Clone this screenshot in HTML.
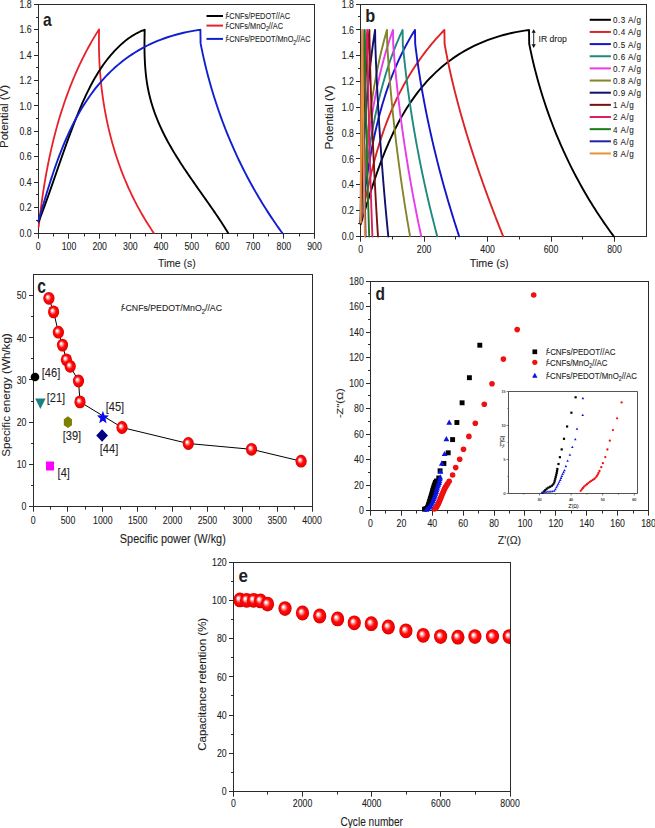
<!DOCTYPE html>
<html><head><meta charset="utf-8"><style>
html,body{margin:0;padding:0;background:#fff;width:655px;height:828px;overflow:hidden;position:relative}
</style></head><body>
<svg width="655" height="828" viewBox="0 0 655 828" style="position:absolute;left:0;top:0;font-family:'Liberation Sans', sans-serif">
<defs>
<radialGradient id="sph" cx="0.5" cy="0.5" r="0.5" fx="0.36" fy="0.37">
<stop offset="0" stop-color="#ffffff"/>
<stop offset="0.13" stop-color="#fff4f4"/>
<stop offset="0.36" stop-color="#ff7070"/>
<stop offset="0.55" stop-color="#ff0a0a"/>
<stop offset="0.88" stop-color="#f20000"/>
<stop offset="1" stop-color="#c40000"/>
</radialGradient>
</defs>
<rect width="655" height="828" fill="#ffffff"/>
<line x1="38.00" y1="233.50" x2="315.00" y2="233.50" stroke="#2a2a2a" stroke-width="1"/>
<line x1="38.50" y1="234.00" x2="38.50" y2="4.00" stroke="#2a2a2a" stroke-width="1"/>
<line x1="38.00" y1="4.50" x2="315.00" y2="4.50" stroke="#2a2a2a" stroke-width="1"/>
<line x1="314.50" y1="4.00" x2="314.50" y2="234.00" stroke="#2a2a2a" stroke-width="1"/>
<line x1="38.50" y1="233.50" x2="38.50" y2="238.70" stroke="#2a2a2a" stroke-width="1"/>
<text transform="translate(38.30,249.80) scale(0.86,1)" font-size="10.2" text-anchor="middle" font-weight="normal" fill="#1e1e1e" stroke="#1e1e1e" stroke-width="0.1" style="">0</text>
<line x1="68.50" y1="233.50" x2="68.50" y2="238.70" stroke="#2a2a2a" stroke-width="1"/>
<text transform="translate(68.99,249.80) scale(0.86,1)" font-size="10.2" text-anchor="middle" font-weight="normal" fill="#1e1e1e" stroke="#1e1e1e" stroke-width="0.1" style="">100</text>
<line x1="99.50" y1="233.50" x2="99.50" y2="238.70" stroke="#2a2a2a" stroke-width="1"/>
<text transform="translate(99.68,249.80) scale(0.86,1)" font-size="10.2" text-anchor="middle" font-weight="normal" fill="#1e1e1e" stroke="#1e1e1e" stroke-width="0.1" style="">200</text>
<line x1="130.50" y1="233.50" x2="130.50" y2="238.70" stroke="#2a2a2a" stroke-width="1"/>
<text transform="translate(130.37,249.80) scale(0.86,1)" font-size="10.2" text-anchor="middle" font-weight="normal" fill="#1e1e1e" stroke="#1e1e1e" stroke-width="0.1" style="">300</text>
<line x1="161.50" y1="233.50" x2="161.50" y2="238.70" stroke="#2a2a2a" stroke-width="1"/>
<text transform="translate(161.06,249.80) scale(0.86,1)" font-size="10.2" text-anchor="middle" font-weight="normal" fill="#1e1e1e" stroke="#1e1e1e" stroke-width="0.1" style="">400</text>
<line x1="191.50" y1="233.50" x2="191.50" y2="238.70" stroke="#2a2a2a" stroke-width="1"/>
<text transform="translate(191.74,249.80) scale(0.86,1)" font-size="10.2" text-anchor="middle" font-weight="normal" fill="#1e1e1e" stroke="#1e1e1e" stroke-width="0.1" style="">500</text>
<line x1="222.50" y1="233.50" x2="222.50" y2="238.70" stroke="#2a2a2a" stroke-width="1"/>
<text transform="translate(222.43,249.80) scale(0.86,1)" font-size="10.2" text-anchor="middle" font-weight="normal" fill="#1e1e1e" stroke="#1e1e1e" stroke-width="0.1" style="">600</text>
<line x1="253.50" y1="233.50" x2="253.50" y2="238.70" stroke="#2a2a2a" stroke-width="1"/>
<text transform="translate(253.12,249.80) scale(0.86,1)" font-size="10.2" text-anchor="middle" font-weight="normal" fill="#1e1e1e" stroke="#1e1e1e" stroke-width="0.1" style="">700</text>
<line x1="283.50" y1="233.50" x2="283.50" y2="238.70" stroke="#2a2a2a" stroke-width="1"/>
<text transform="translate(283.81,249.80) scale(0.86,1)" font-size="10.2" text-anchor="middle" font-weight="normal" fill="#1e1e1e" stroke="#1e1e1e" stroke-width="0.1" style="">800</text>
<line x1="314.50" y1="233.50" x2="314.50" y2="238.70" stroke="#2a2a2a" stroke-width="1"/>
<text transform="translate(314.50,249.80) scale(0.86,1)" font-size="10.2" text-anchor="middle" font-weight="normal" fill="#1e1e1e" stroke="#1e1e1e" stroke-width="0.1" style="">900</text>
<line x1="53.50" y1="233.50" x2="53.50" y2="236.50" stroke="#2a2a2a" stroke-width="1"/>
<line x1="84.50" y1="233.50" x2="84.50" y2="236.50" stroke="#2a2a2a" stroke-width="1"/>
<line x1="115.50" y1="233.50" x2="115.50" y2="236.50" stroke="#2a2a2a" stroke-width="1"/>
<line x1="145.50" y1="233.50" x2="145.50" y2="236.50" stroke="#2a2a2a" stroke-width="1"/>
<line x1="176.50" y1="233.50" x2="176.50" y2="236.50" stroke="#2a2a2a" stroke-width="1"/>
<line x1="207.50" y1="233.50" x2="207.50" y2="236.50" stroke="#2a2a2a" stroke-width="1"/>
<line x1="237.50" y1="233.50" x2="237.50" y2="236.50" stroke="#2a2a2a" stroke-width="1"/>
<line x1="268.50" y1="233.50" x2="268.50" y2="236.50" stroke="#2a2a2a" stroke-width="1"/>
<line x1="299.50" y1="233.50" x2="299.50" y2="236.50" stroke="#2a2a2a" stroke-width="1"/>
<line x1="34.00" y1="233.50" x2="38.50" y2="233.50" stroke="#2a2a2a" stroke-width="1"/>
<text transform="translate(31.60,236.70) scale(0.86,1)" font-size="10.2" text-anchor="end" font-weight="normal" fill="#1e1e1e" stroke="#1e1e1e" stroke-width="0.1" style="">0.0</text>
<line x1="34.00" y1="207.50" x2="38.50" y2="207.50" stroke="#2a2a2a" stroke-width="1"/>
<text transform="translate(31.60,211.29) scale(0.86,1)" font-size="10.2" text-anchor="end" font-weight="normal" fill="#1e1e1e" stroke="#1e1e1e" stroke-width="0.1" style="">0.2</text>
<line x1="34.00" y1="182.50" x2="38.50" y2="182.50" stroke="#2a2a2a" stroke-width="1"/>
<text transform="translate(31.60,185.88) scale(0.86,1)" font-size="10.2" text-anchor="end" font-weight="normal" fill="#1e1e1e" stroke="#1e1e1e" stroke-width="0.1" style="">0.4</text>
<line x1="34.00" y1="156.50" x2="38.50" y2="156.50" stroke="#2a2a2a" stroke-width="1"/>
<text transform="translate(31.60,160.47) scale(0.86,1)" font-size="10.2" text-anchor="end" font-weight="normal" fill="#1e1e1e" stroke="#1e1e1e" stroke-width="0.1" style="">0.6</text>
<line x1="34.00" y1="131.50" x2="38.50" y2="131.50" stroke="#2a2a2a" stroke-width="1"/>
<text transform="translate(31.60,135.06) scale(0.86,1)" font-size="10.2" text-anchor="end" font-weight="normal" fill="#1e1e1e" stroke="#1e1e1e" stroke-width="0.1" style="">0.8</text>
<line x1="34.00" y1="105.50" x2="38.50" y2="105.50" stroke="#2a2a2a" stroke-width="1"/>
<text transform="translate(31.60,109.64) scale(0.86,1)" font-size="10.2" text-anchor="end" font-weight="normal" fill="#1e1e1e" stroke="#1e1e1e" stroke-width="0.1" style="">1.0</text>
<line x1="34.00" y1="80.50" x2="38.50" y2="80.50" stroke="#2a2a2a" stroke-width="1"/>
<text transform="translate(31.60,84.23) scale(0.86,1)" font-size="10.2" text-anchor="end" font-weight="normal" fill="#1e1e1e" stroke="#1e1e1e" stroke-width="0.1" style="">1.2</text>
<line x1="34.00" y1="55.50" x2="38.50" y2="55.50" stroke="#2a2a2a" stroke-width="1"/>
<text transform="translate(31.60,58.82) scale(0.86,1)" font-size="10.2" text-anchor="end" font-weight="normal" fill="#1e1e1e" stroke="#1e1e1e" stroke-width="0.1" style="">1.4</text>
<line x1="34.00" y1="29.50" x2="38.50" y2="29.50" stroke="#2a2a2a" stroke-width="1"/>
<text transform="translate(31.60,33.41) scale(0.86,1)" font-size="10.2" text-anchor="end" font-weight="normal" fill="#1e1e1e" stroke="#1e1e1e" stroke-width="0.1" style="">1.6</text>
<line x1="34.00" y1="4.50" x2="38.50" y2="4.50" stroke="#2a2a2a" stroke-width="1"/>
<text transform="translate(31.60,8.00) scale(0.86,1)" font-size="10.2" text-anchor="end" font-weight="normal" fill="#1e1e1e" stroke="#1e1e1e" stroke-width="0.1" style="">1.8</text>
<line x1="36.00" y1="220.50" x2="38.50" y2="220.50" stroke="#2a2a2a" stroke-width="1"/>
<line x1="36.00" y1="194.50" x2="38.50" y2="194.50" stroke="#2a2a2a" stroke-width="1"/>
<line x1="36.00" y1="169.50" x2="38.50" y2="169.50" stroke="#2a2a2a" stroke-width="1"/>
<line x1="36.00" y1="144.50" x2="38.50" y2="144.50" stroke="#2a2a2a" stroke-width="1"/>
<line x1="36.00" y1="118.50" x2="38.50" y2="118.50" stroke="#2a2a2a" stroke-width="1"/>
<line x1="36.00" y1="93.50" x2="38.50" y2="93.50" stroke="#2a2a2a" stroke-width="1"/>
<line x1="36.00" y1="67.50" x2="38.50" y2="67.50" stroke="#2a2a2a" stroke-width="1"/>
<line x1="36.00" y1="42.50" x2="38.50" y2="42.50" stroke="#2a2a2a" stroke-width="1"/>
<line x1="36.00" y1="17.50" x2="38.50" y2="17.50" stroke="#2a2a2a" stroke-width="1"/>
<text transform="translate(176.80,267.00)" font-size="11.6" text-anchor="middle" font-weight="normal" fill="#1e1e1e" stroke="#1e1e1e" stroke-width="0.1" textLength="37.80" lengthAdjust="spacingAndGlyphs" style="">Time (s)</text>
<text transform="translate(7.60,116.50) rotate(-90) scale(1,0.86)" font-size="11.8" text-anchor="middle" font-weight="normal" fill="#1e1e1e" stroke="#1e1e1e" stroke-width="0.1" textLength="63.00" lengthAdjust="spacingAndGlyphs" style="">Potential (V)</text>
<text transform="translate(43.00,25.70) scale(0.86,1)" font-size="18" text-anchor="start" font-weight="bold" fill="#1e1e1e" style="">a</text>
<polyline points="38.70,226.90 38.94,224.59 39.20,222.28 39.46,219.97 39.73,217.66 40.00,215.35 40.28,213.04 40.57,210.72 40.87,208.41 41.17,206.10 41.48,203.78 41.80,201.46 42.13,199.15 42.46,196.83 42.80,194.52 43.15,192.20 43.50,189.88 43.87,187.57 44.24,185.25 44.62,182.94 45.01,180.63 45.41,178.31 45.82,176.00 46.24,173.69 46.66,171.38 47.10,169.07 47.54,166.77 47.99,164.46 48.46,162.16 48.93,159.85 49.41,157.55 49.90,155.26 50.40,152.96 50.91,150.67 51.43,148.38 51.96,146.09 52.51,143.80 53.06,141.52 53.62,139.24 54.19,136.96 54.78,134.68 55.37,132.41 55.98,130.14 56.60,127.88 57.23,125.62 57.87,123.36 58.52,121.11 59.18,118.86 59.85,116.61 60.54,114.37 61.24,112.13 61.95,109.90 62.67,107.67 63.41,105.44 64.15,103.22 64.91,101.01 65.68,98.80 66.47,96.59 67.27,94.39 68.08,92.20 68.90,90.01 69.74,87.83 70.59,85.65 71.45,83.47 72.33,81.31 73.22,79.15 74.13,76.99 75.05,74.85 75.98,72.70 76.92,70.57 77.89,68.44 78.86,66.32 79.85,64.20 80.85,62.09 81.87,59.99 82.91,57.90 83.96,55.81 85.02,53.73 86.10,51.66 87.19,49.60 88.30,47.54 89.43,45.49 90.57,43.45 91.72,41.42 92.90,39.39 94.08,37.38 95.29,35.37 96.51,33.37 97.74,31.38 99.00,29.40 99.10,29.40 99.04,31.80 98.99,34.20 98.96,36.61 98.93,39.01 98.93,41.42 98.93,43.82 98.95,46.23 98.99,48.64 99.03,51.04 99.10,53.45 99.17,55.86 99.26,58.27 99.37,60.67 99.49,63.08 99.62,65.48 99.77,67.89 99.93,70.29 100.11,72.70 100.30,75.10 100.51,77.50 100.73,79.90 100.97,82.30 101.22,84.69 101.49,87.09 101.77,89.48 102.06,91.87 102.38,94.26 102.70,96.65 103.05,99.03 103.40,101.41 103.78,103.79 104.16,106.17 104.57,108.54 104.99,110.91 105.42,113.28 105.87,115.64 106.34,118.01 106.82,120.36 107.32,122.72 107.83,125.07 108.36,127.41 108.91,129.75 109.47,132.09 110.05,134.43 110.64,136.75 111.26,139.08 111.88,141.40 112.53,143.71 113.19,146.02 113.86,148.33 114.55,150.63 115.26,152.92 115.99,155.21 116.73,157.50 117.49,159.77 118.27,162.04 119.06,164.31 119.87,166.57 120.70,168.82 121.54,171.07 122.40,173.31 123.28,175.55 124.18,177.77 125.09,179.99 126.02,182.21 126.97,184.41 127.93,186.61 128.92,188.81 129.92,190.99 130.93,193.17 131.97,195.34 133.02,197.50 134.09,199.65 135.18,201.79 136.29,203.93 137.41,206.06 138.56,208.18 139.72,210.29 140.90,212.39 142.09,214.48 143.31,216.57 144.54,218.64 145.80,220.71 147.07,222.77 148.36,224.81 149.66,226.85 150.99,228.88 152.34,230.89 153.70,232.90" fill="none" stroke="#e8202a" stroke-width="1.8" stroke-linejoin="round" stroke-linecap="round"/>
<polyline points="38.70,221.70 39.61,219.31 40.52,216.92 41.42,214.53 42.31,212.14 43.19,209.76 44.07,207.37 44.93,204.99 45.80,202.61 46.65,200.23 47.50,197.85 48.35,195.47 49.19,193.09 50.03,190.72 50.86,188.34 51.70,185.97 52.52,183.59 53.35,181.22 54.17,178.85 55.00,176.47 55.82,174.10 56.64,171.73 57.46,169.36 58.29,166.99 59.11,164.62 59.94,162.25 60.76,159.88 61.59,157.51 62.43,155.14 63.26,152.77 64.10,150.40 64.95,148.03 65.79,145.66 66.65,143.29 67.51,140.92 68.37,138.55 69.25,136.18 70.13,133.80 71.01,131.43 71.91,129.06 72.81,126.69 73.72,124.31 74.64,121.94 75.57,119.56 76.52,117.19 77.47,114.81 78.43,112.44 79.41,110.07 80.40,107.70 81.41,105.34 82.43,102.99 83.47,100.64 84.53,98.30 85.60,95.97 86.70,93.65 87.81,91.35 88.95,89.06 90.11,86.78 91.29,84.52 92.50,82.27 93.73,80.05 94.99,77.84 96.27,75.65 97.58,73.49 98.92,71.34 100.29,69.23 101.69,67.13 103.12,65.06 104.58,63.02 106.08,61.01 107.61,59.03 109.18,57.08 110.78,55.16 112.42,53.27 114.09,51.42 115.81,49.60 117.56,47.82 119.35,46.08 121.19,44.38 123.07,42.72 124.99,41.12 126.97,39.57 128.98,38.08 131.05,36.66 133.17,35.31 135.35,34.03 137.57,32.84 139.86,31.73 142.20,30.71 144.60,29.79 144.70,29.80 144.64,32.33 144.59,34.86 144.54,37.40 144.51,39.95 144.48,42.49 144.48,45.04 144.49,47.59 144.51,50.14 144.55,52.69 144.62,55.24 144.70,57.79 144.81,60.34 144.94,62.88 145.09,65.42 145.28,67.96 145.49,70.49 145.73,73.02 146.00,75.54 146.31,78.06 146.64,80.56 147.02,83.06 147.43,85.55 147.87,88.03 148.36,90.50 148.89,92.96 149.46,95.40 150.06,97.84 150.71,100.26 151.39,102.68 152.11,105.08 152.87,107.47 153.66,109.85 154.48,112.22 155.34,114.57 156.23,116.92 157.16,119.25 158.11,121.57 159.10,123.88 160.11,126.17 161.16,128.46 162.23,130.73 163.33,132.99 164.46,135.24 165.61,137.48 166.78,139.71 167.98,141.93 169.20,144.14 170.44,146.34 171.71,148.53 172.99,150.71 174.29,152.88 175.61,155.05 176.95,157.21 178.30,159.36 179.66,161.51 181.04,163.65 182.44,165.78 183.84,167.90 185.26,170.03 186.68,172.14 188.12,174.25 189.56,176.36 191.01,178.46 192.46,180.56 193.92,182.66 195.39,184.75 196.86,186.84 198.33,188.93 199.80,191.02 201.28,193.10 202.75,195.19 204.22,197.27 205.69,199.35 207.16,201.44 208.62,203.52 210.07,205.60 211.52,207.69 212.97,209.77 214.40,211.86 215.83,213.95 217.24,216.04 218.65,218.14 220.04,220.23 221.42,222.33 222.79,224.44 224.14,226.55 225.48,228.66 226.80,230.78 228.10,232.90" fill="none" stroke="#000000" stroke-width="1.9" stroke-linejoin="round" stroke-linecap="round"/>
<line x1="206.50" y1="16.00" x2="223.00" y2="16.00" stroke="#000000" stroke-width="2.0"/>
<text transform="translate(225.50,19.30)" font-size="9.4" text-anchor="start" font-weight="normal" fill="#1e1e1e" stroke="#1e1e1e" stroke-width="0.1" textLength="64.50" lengthAdjust="spacingAndGlyphs" style=""><tspan font-style="italic">f</tspan><tspan dx="-0.9">-</tspan>CNFs/PEDOT//AC</text>
<line x1="206.50" y1="25.60" x2="223.00" y2="25.60" stroke="#e8202a" stroke-width="2.0"/>
<text transform="translate(225.50,28.90)" font-size="9.4" text-anchor="start" font-weight="normal" fill="#1e1e1e" stroke="#1e1e1e" stroke-width="0.1" textLength="57.50" lengthAdjust="spacingAndGlyphs" style=""><tspan font-style="italic">f</tspan><tspan dx="-0.9">-</tspan>CNFs/MnO<tspan font-size="6.5" dy="2.3">2</tspan><tspan dy="-2.3">//AC</tspan></text>
<line x1="206.50" y1="38.90" x2="223.00" y2="38.90" stroke="#1020d0" stroke-width="2.0"/>
<text transform="translate(225.50,42.20)" font-size="9.4" text-anchor="start" font-weight="normal" fill="#1e1e1e" stroke="#1e1e1e" stroke-width="0.1" textLength="85.00" lengthAdjust="spacingAndGlyphs" style=""><tspan font-style="italic">f</tspan><tspan dx="-0.9">-</tspan>CNFs/PEDOT/MnO<tspan font-size="6.5" dy="2.3">2</tspan><tspan dy="-2.3">//AC</tspan></text>
<line x1="360.00" y1="236.50" x2="647.00" y2="236.50" stroke="#2a2a2a" stroke-width="1"/>
<line x1="360.50" y1="237.00" x2="360.50" y2="4.00" stroke="#2a2a2a" stroke-width="1"/>
<line x1="360.00" y1="4.50" x2="647.00" y2="4.50" stroke="#2a2a2a" stroke-width="1"/>
<line x1="646.50" y1="4.00" x2="646.50" y2="237.00" stroke="#2a2a2a" stroke-width="1"/>
<line x1="360.50" y1="236.50" x2="360.50" y2="241.70" stroke="#2a2a2a" stroke-width="1"/>
<text transform="translate(360.70,253.00) scale(0.86,1)" font-size="10.2" text-anchor="middle" font-weight="normal" fill="#1e1e1e" stroke="#1e1e1e" stroke-width="0.1" style="">0</text>
<line x1="424.50" y1="236.50" x2="424.50" y2="241.70" stroke="#2a2a2a" stroke-width="1"/>
<text transform="translate(424.14,253.00) scale(0.86,1)" font-size="10.2" text-anchor="middle" font-weight="normal" fill="#1e1e1e" stroke="#1e1e1e" stroke-width="0.1" style="">200</text>
<line x1="487.50" y1="236.50" x2="487.50" y2="241.70" stroke="#2a2a2a" stroke-width="1"/>
<text transform="translate(487.59,253.00) scale(0.86,1)" font-size="10.2" text-anchor="middle" font-weight="normal" fill="#1e1e1e" stroke="#1e1e1e" stroke-width="0.1" style="">400</text>
<line x1="551.50" y1="236.50" x2="551.50" y2="241.70" stroke="#2a2a2a" stroke-width="1"/>
<text transform="translate(551.03,253.00) scale(0.86,1)" font-size="10.2" text-anchor="middle" font-weight="normal" fill="#1e1e1e" stroke="#1e1e1e" stroke-width="0.1" style="">600</text>
<line x1="614.50" y1="236.50" x2="614.50" y2="241.70" stroke="#2a2a2a" stroke-width="1"/>
<text transform="translate(614.48,253.00) scale(0.86,1)" font-size="10.2" text-anchor="middle" font-weight="normal" fill="#1e1e1e" stroke="#1e1e1e" stroke-width="0.1" style="">800</text>
<line x1="392.50" y1="236.50" x2="392.50" y2="239.50" stroke="#2a2a2a" stroke-width="1"/>
<line x1="455.50" y1="236.50" x2="455.50" y2="239.50" stroke="#2a2a2a" stroke-width="1"/>
<line x1="519.50" y1="236.50" x2="519.50" y2="239.50" stroke="#2a2a2a" stroke-width="1"/>
<line x1="582.50" y1="236.50" x2="582.50" y2="239.50" stroke="#2a2a2a" stroke-width="1"/>
<line x1="356.00" y1="236.50" x2="360.50" y2="236.50" stroke="#2a2a2a" stroke-width="1"/>
<text transform="translate(354.00,239.90) scale(0.86,1)" font-size="10.2" text-anchor="end" font-weight="normal" fill="#1e1e1e" stroke="#1e1e1e" stroke-width="0.1" style="">0.0</text>
<line x1="356.00" y1="210.50" x2="360.50" y2="210.50" stroke="#2a2a2a" stroke-width="1"/>
<text transform="translate(354.00,214.11) scale(0.86,1)" font-size="10.2" text-anchor="end" font-weight="normal" fill="#1e1e1e" stroke="#1e1e1e" stroke-width="0.1" style="">0.2</text>
<line x1="356.00" y1="184.50" x2="360.50" y2="184.50" stroke="#2a2a2a" stroke-width="1"/>
<text transform="translate(354.00,188.32) scale(0.86,1)" font-size="10.2" text-anchor="end" font-weight="normal" fill="#1e1e1e" stroke="#1e1e1e" stroke-width="0.1" style="">0.4</text>
<line x1="356.00" y1="158.50" x2="360.50" y2="158.50" stroke="#2a2a2a" stroke-width="1"/>
<text transform="translate(354.00,162.53) scale(0.86,1)" font-size="10.2" text-anchor="end" font-weight="normal" fill="#1e1e1e" stroke="#1e1e1e" stroke-width="0.1" style="">0.6</text>
<line x1="356.00" y1="133.50" x2="360.50" y2="133.50" stroke="#2a2a2a" stroke-width="1"/>
<text transform="translate(354.00,136.74) scale(0.86,1)" font-size="10.2" text-anchor="end" font-weight="normal" fill="#1e1e1e" stroke="#1e1e1e" stroke-width="0.1" style="">0.8</text>
<line x1="356.00" y1="107.50" x2="360.50" y2="107.50" stroke="#2a2a2a" stroke-width="1"/>
<text transform="translate(354.00,110.96) scale(0.86,1)" font-size="10.2" text-anchor="end" font-weight="normal" fill="#1e1e1e" stroke="#1e1e1e" stroke-width="0.1" style="">1.0</text>
<line x1="356.00" y1="81.50" x2="360.50" y2="81.50" stroke="#2a2a2a" stroke-width="1"/>
<text transform="translate(354.00,85.17) scale(0.86,1)" font-size="10.2" text-anchor="end" font-weight="normal" fill="#1e1e1e" stroke="#1e1e1e" stroke-width="0.1" style="">1.2</text>
<line x1="356.00" y1="55.50" x2="360.50" y2="55.50" stroke="#2a2a2a" stroke-width="1"/>
<text transform="translate(354.00,59.38) scale(0.86,1)" font-size="10.2" text-anchor="end" font-weight="normal" fill="#1e1e1e" stroke="#1e1e1e" stroke-width="0.1" style="">1.4</text>
<line x1="356.00" y1="29.50" x2="360.50" y2="29.50" stroke="#2a2a2a" stroke-width="1"/>
<text transform="translate(354.00,33.59) scale(0.86,1)" font-size="10.2" text-anchor="end" font-weight="normal" fill="#1e1e1e" stroke="#1e1e1e" stroke-width="0.1" style="">1.6</text>
<line x1="356.00" y1="4.50" x2="360.50" y2="4.50" stroke="#2a2a2a" stroke-width="1"/>
<text transform="translate(354.00,7.80) scale(0.86,1)" font-size="10.2" text-anchor="end" font-weight="normal" fill="#1e1e1e" stroke="#1e1e1e" stroke-width="0.1" style="">1.8</text>
<line x1="358.00" y1="223.50" x2="360.50" y2="223.50" stroke="#2a2a2a" stroke-width="1"/>
<line x1="358.00" y1="197.50" x2="360.50" y2="197.50" stroke="#2a2a2a" stroke-width="1"/>
<line x1="358.00" y1="171.50" x2="360.50" y2="171.50" stroke="#2a2a2a" stroke-width="1"/>
<line x1="358.00" y1="145.50" x2="360.50" y2="145.50" stroke="#2a2a2a" stroke-width="1"/>
<line x1="358.00" y1="120.50" x2="360.50" y2="120.50" stroke="#2a2a2a" stroke-width="1"/>
<line x1="358.00" y1="94.50" x2="360.50" y2="94.50" stroke="#2a2a2a" stroke-width="1"/>
<line x1="358.00" y1="68.50" x2="360.50" y2="68.50" stroke="#2a2a2a" stroke-width="1"/>
<line x1="358.00" y1="42.50" x2="360.50" y2="42.50" stroke="#2a2a2a" stroke-width="1"/>
<line x1="358.00" y1="16.50" x2="360.50" y2="16.50" stroke="#2a2a2a" stroke-width="1"/>
<text transform="translate(489.20,267.00)" font-size="11.6" text-anchor="middle" font-weight="normal" fill="#1e1e1e" stroke="#1e1e1e" stroke-width="0.1" textLength="38.80" lengthAdjust="spacingAndGlyphs" style="">Time (s)</text>
<text transform="translate(332.80,117.50) rotate(-90) scale(1,0.86)" font-size="11.8" text-anchor="middle" font-weight="normal" fill="#1e1e1e" stroke="#1e1e1e" stroke-width="0.1" textLength="63.80" lengthAdjust="spacingAndGlyphs" style="">Potential (V)</text>
<text transform="translate(365.30,21.80) scale(0.86,1)" font-size="19" text-anchor="start" font-weight="bold" fill="#1e1e1e" style="">b</text>
<polyline points="38.29,221.25 39.13,218.43 39.98,215.58 40.83,212.70 41.69,209.81 42.56,206.89 43.43,203.95 44.32,200.99 45.21,198.02 46.12,195.03 47.04,192.02 47.97,189.01 48.92,185.98 49.88,182.94 50.86,179.89 51.86,176.84 52.87,173.78 53.91,170.71 54.97,167.64 56.04,164.57 57.15,161.50 58.27,158.43 59.42,155.37 60.60,152.30 61.81,149.25 63.04,146.19 64.30,143.15 65.59,140.12 66.92,137.09 68.27,134.08 69.66,131.08 71.08,128.10 72.54,125.14 74.04,122.19 75.57,119.26 77.14,116.35 78.76,113.46 80.41,110.60 82.10,107.76 83.84,104.95 85.62,102.16 87.45,99.40 89.32,96.68 91.24,93.98 93.20,91.32 95.22,88.69 97.29,86.10 99.40,83.55 101.57,81.03 103.80,78.55 106.07,76.12 108.40,73.73 110.79,71.38 113.24,69.08 115.74,66.82 118.31,64.62 120.93,62.46 123.62,60.35 126.37,58.30 129.18,56.30 132.06,54.36 135.00,52.47 138.01,50.64 141.09,48.87 144.23,47.16 147.45,45.51 150.74,43.93 154.10,42.41 157.53,40.96 161.04,39.57 164.62,38.26 168.28,37.01 172.01,35.84 175.82,34.74 179.72,33.72 183.69,32.77 187.74,31.90 191.88,31.11 196.10,30.40 200.41,29.77 200.40,29.71 200.60,43.38 201.34,47.14 202.11,50.88 202.90,54.61 203.72,58.33 204.57,62.02 205.45,65.70 206.35,69.37 207.27,73.01 208.23,76.64 209.20,80.26 210.21,83.85 211.23,87.43 212.29,90.99 213.36,94.54 214.46,98.06 215.58,101.57 216.73,105.06 217.90,108.53 219.10,111.99 220.31,115.42 221.55,118.84 222.81,122.23 224.09,125.61 225.39,128.97 226.72,132.31 228.07,135.63 229.43,138.93 230.82,142.21 232.23,145.48 233.65,148.72 235.10,151.94 236.57,155.14 238.05,158.32 239.56,161.48 241.08,164.62 242.62,167.73 244.18,170.83 245.75,173.90 247.35,176.96 248.96,179.99 250.59,183.00 252.23,185.99 253.90,188.96 255.57,191.90 257.27,194.82 258.98,197.72 260.70,200.60 262.44,203.45 264.20,206.28 265.97,209.09 267.75,211.87 269.55,214.64 271.36,217.37 273.18,220.09 275.02,222.78 276.87,225.44 278.74,228.09 280.61,230.70 282.50,233.30" fill="none" stroke="#1020d0" stroke-width="1.9" stroke-linejoin="round" stroke-linecap="round"/>
<polyline points="360.69,224.28 361.57,221.41 362.45,218.52 363.33,215.60 364.22,212.66 365.12,209.70 366.03,206.72 366.95,203.72 367.88,200.70 368.82,197.66 369.77,194.61 370.74,191.55 371.72,188.48 372.72,185.39 373.74,182.30 374.78,179.20 375.83,176.10 376.91,172.99 378.00,169.87 379.12,166.76 380.27,163.64 381.44,160.52 382.63,157.41 383.85,154.30 385.10,151.20 386.38,148.10 387.69,145.02 389.04,141.94 390.41,138.87 391.82,135.81 393.26,132.77 394.74,129.74 396.25,126.73 397.81,123.74 399.40,120.77 401.03,117.81 402.70,114.88 404.42,111.98 406.18,109.10 407.98,106.24 409.83,103.42 411.73,100.62 413.67,97.85 415.66,95.12 417.70,92.41 419.80,89.75 421.94,87.12 424.14,84.52 426.39,81.97 428.70,79.46 431.06,76.99 433.49,74.56 435.97,72.18 438.51,69.84 441.11,67.55 443.77,65.31 446.49,63.12 449.28,60.99 452.14,58.90 455.06,56.87 458.04,54.90 461.10,52.98 464.22,51.13 467.42,49.33 470.69,47.60 474.02,45.92 477.44,44.32 480.93,42.78 484.49,41.30 488.13,39.90 491.85,38.56 495.65,37.30 499.52,36.11 503.48,35.00 507.53,33.96 511.65,32.99 515.86,32.11 520.16,31.31 524.54,30.58 529.01,29.95 529.00,29.89 529.20,43.76 529.97,47.58 530.76,51.38 531.58,55.16 532.43,58.93 533.31,62.68 534.21,66.42 535.14,70.13 536.10,73.84 537.09,77.52 538.10,81.19 539.13,84.84 540.20,88.47 541.28,92.08 542.40,95.68 543.54,99.26 544.70,102.82 545.88,106.36 547.09,109.88 548.33,113.39 549.58,116.87 550.87,120.34 552.17,123.79 553.49,127.22 554.84,130.63 556.21,134.02 557.60,137.38 559.02,140.73 560.45,144.06 561.91,147.37 563.38,150.66 564.88,153.93 566.40,157.18 567.93,160.41 569.49,163.61 571.06,166.80 572.66,169.96 574.27,173.10 575.90,176.23 577.55,179.32 579.21,182.40 580.90,185.46 582.60,188.49 584.32,191.50 586.05,194.49 587.81,197.45 589.57,200.40 591.36,203.32 593.16,206.21 594.97,209.08 596.80,211.93 598.65,214.76 600.50,217.56 602.38,220.34 604.26,223.10 606.17,225.83 608.08,228.53 610.01,231.21 611.95,233.87 613.90,236.50" fill="none" stroke="#000000" stroke-width="1.9" stroke-linejoin="round" stroke-linecap="round"/>
<polyline points="360.69,222.44 361.13,220.29 361.57,218.12 362.01,215.93 362.45,213.73 362.90,211.51 363.35,209.27 363.81,207.02 364.27,204.75 364.74,202.46 365.21,200.16 365.69,197.85 366.18,195.53 366.68,193.19 367.19,190.83 367.70,188.47 368.22,186.09 368.76,183.70 369.31,181.30 369.86,178.89 370.43,176.47 371.01,174.04 371.61,171.60 372.22,169.15 372.84,166.69 373.47,164.22 374.12,161.74 374.79,159.26 375.48,156.77 376.18,154.27 376.89,151.77 377.63,149.26 378.38,146.74 379.15,144.22 379.95,141.70 380.76,139.17 381.59,136.64 382.44,134.10 383.32,131.56 384.21,129.02 385.13,126.48 386.08,123.93 387.04,121.38 388.03,118.84 389.05,116.29 390.09,113.74 391.16,111.19 392.25,108.64 393.37,106.09 394.52,103.55 395.69,101.00 396.90,98.46 398.13,95.92 399.39,93.39 400.69,90.86 402.01,88.33 403.37,85.81 404.75,83.29 406.17,80.77 407.63,78.27 409.11,75.76 410.63,73.27 412.18,70.78 413.77,68.30 415.40,65.82 417.06,63.36 418.76,60.90 420.49,58.45 422.26,56.02 424.07,53.59 425.92,51.17 427.81,48.76 429.74,46.36 431.71,43.97 433.72,41.60 435.77,39.24 437.87,36.89 440.00,34.55 442.18,32.23 444.40,29.92 444.40,29.89 444.60,43.89 445.13,46.87 445.68,49.87 446.25,52.89 446.84,55.92 447.44,58.97 448.07,62.03 448.71,65.10 449.38,68.19 450.06,71.30 450.76,74.42 451.47,77.55 452.21,80.69 452.96,83.84 453.73,87.01 454.52,90.19 455.32,93.38 456.14,96.58 456.98,99.79 457.83,103.02 458.70,106.25 459.59,109.49 460.49,112.74 461.41,116.00 462.34,119.27 463.29,122.55 464.25,125.83 465.23,129.12 466.22,132.42 467.23,135.73 468.25,139.04 469.28,142.36 470.33,145.69 471.40,149.02 472.47,152.35 473.56,155.69 474.66,159.04 475.78,162.38 476.91,165.74 478.05,169.09 479.20,172.45 480.37,175.81 481.55,179.17 482.73,182.54 483.93,185.91 485.15,189.28 486.37,192.65 487.60,196.02 488.85,199.39 490.10,202.76 491.37,206.13 492.65,209.50 493.93,212.86 495.23,216.23 496.53,219.59 497.85,222.96 499.17,226.32 500.51,229.68 501.85,233.03 503.20,236.38" fill="none" stroke="#dc2424" stroke-width="1.9" stroke-linejoin="round" stroke-linecap="round"/>
<polyline points="360.70,222.44 360.98,220.29 361.26,218.12 361.55,215.93 361.84,213.73 362.13,211.51 362.42,209.27 362.72,207.02 363.02,204.75 363.32,202.46 363.63,200.16 363.94,197.85 364.26,195.53 364.58,193.19 364.91,190.83 365.24,188.47 365.58,186.09 365.93,183.70 366.28,181.30 366.64,178.89 367.01,176.47 367.39,174.04 367.78,171.60 368.17,169.15 368.57,166.69 368.99,164.22 369.41,161.74 369.84,159.26 370.29,156.77 370.74,154.27 371.20,151.77 371.68,149.26 372.17,146.74 372.67,144.22 373.19,141.70 373.71,139.17 374.25,136.64 374.81,134.10 375.37,131.56 375.95,129.02 376.55,126.48 377.16,123.93 377.79,121.38 378.43,118.84 379.09,116.29 379.77,113.74 380.46,111.19 381.17,108.64 381.89,106.09 382.64,103.55 383.40,101.00 384.18,98.46 384.98,95.92 385.80,93.39 386.64,90.86 387.50,88.33 388.38,85.81 389.28,83.29 390.20,80.77 391.14,78.27 392.11,75.76 393.09,73.27 394.10,70.78 395.13,68.30 396.19,65.82 397.26,63.36 398.36,60.90 399.49,58.45 400.64,56.02 401.81,53.59 403.01,51.17 404.24,48.76 405.49,46.36 406.77,43.97 408.07,41.60 409.40,39.24 410.76,36.89 412.15,34.55 413.56,32.23 415.00,29.92 415.00,29.89 415.20,43.84 415.60,47.13 416.01,50.44 416.44,53.74 416.88,57.05 417.33,60.36 417.80,63.67 418.29,66.99 418.79,70.31 419.30,73.63 419.82,76.95 420.36,80.28 420.91,83.61 421.48,86.93 422.06,90.26 422.65,93.59 423.25,96.92 423.87,100.25 424.50,103.58 425.14,106.91 425.79,110.23 426.45,113.56 427.13,116.88 427.82,120.21 428.52,123.53 429.23,126.85 429.96,130.16 430.69,133.48 431.43,136.79 432.19,140.10 432.96,143.40 433.73,146.70 434.52,150.00 435.32,153.29 436.13,156.57 436.95,159.86 437.77,163.13 438.61,166.40 439.46,169.67 440.32,172.93 441.18,176.18 442.06,179.43 442.94,182.67 443.83,185.90 444.73,189.13 445.64,192.34 446.56,195.55 447.49,198.75 448.42,201.95 449.37,205.13 450.32,208.30 451.28,211.47 452.24,214.63 453.21,217.77 454.19,220.91 455.18,224.03 456.18,227.15 457.18,230.25 458.19,233.34 459.20,236.43" fill="none" stroke="#1414c8" stroke-width="1.9" stroke-linejoin="round" stroke-linecap="round"/>
<polyline points="360.70,222.35 360.92,220.23 361.13,218.10 361.35,215.95 361.58,213.78 361.80,211.60 362.03,209.40 362.26,207.19 362.49,204.96 362.72,202.72 362.96,200.46 363.20,198.18 363.44,195.90 363.69,193.60 363.95,191.28 364.20,188.96 364.47,186.62 364.73,184.27 365.01,181.90 365.29,179.53 365.57,177.14 365.86,174.75 366.16,172.34 366.46,169.93 366.78,167.50 367.09,165.07 367.42,162.62 367.75,160.17 368.10,157.71 368.45,155.24 368.81,152.77 369.17,150.29 369.55,147.80 369.94,145.30 370.33,142.80 370.74,140.29 371.16,137.78 371.58,135.27 372.02,132.75 372.47,130.22 372.93,127.69 373.40,125.16 373.89,122.62 374.38,120.08 374.89,117.54 375.41,115.00 375.95,112.46 376.49,109.91 377.05,107.36 377.63,104.82 378.22,102.27 378.82,99.72 379.44,97.17 380.07,94.63 380.72,92.08 381.38,89.54 382.06,87.00 382.75,84.46 383.46,81.92 384.19,79.39 384.93,76.86 385.70,74.34 386.47,71.81 387.27,69.30 388.08,66.78 388.91,64.28 389.76,61.77 390.63,59.28 391.52,56.79 392.43,54.31 393.35,51.83 394.30,49.36 395.26,46.90 396.25,44.45 397.25,42.00 398.28,39.57 399.33,37.14 400.40,34.72 401.49,32.32 402.60,29.92 402.60,29.89 402.80,43.82 403.11,47.22 403.44,50.62 403.77,54.02 404.12,57.42 404.47,60.82 404.84,64.22 405.22,67.62 405.61,71.01 406.01,74.41 406.42,77.80 406.85,81.19 407.28,84.58 407.72,87.96 408.18,91.35 408.64,94.72 409.11,98.10 409.60,101.47 410.09,104.84 410.59,108.20 411.10,111.56 411.62,114.92 412.16,118.27 412.70,121.61 413.24,124.95 413.80,128.28 414.37,131.61 414.95,134.93 415.53,138.24 416.12,141.55 416.72,144.85 417.33,148.15 417.95,151.43 418.58,154.71 419.21,157.98 419.85,161.24 420.50,164.50 421.16,167.74 421.82,170.98 422.49,174.21 423.17,177.43 423.86,180.63 424.55,183.83 425.25,187.02 425.96,190.20 426.67,193.36 427.39,196.52 428.12,199.67 428.85,202.80 429.59,205.92 430.34,209.03 431.09,212.13 431.84,215.21 432.61,218.29 433.38,221.35 434.15,224.39 434.93,227.42 435.71,230.44 436.50,233.45 437.30,236.44" fill="none" stroke="#1e8a7e" stroke-width="1.9" stroke-linejoin="round" stroke-linecap="round"/>
<polyline points="360.70,222.35 360.87,220.23 361.03,218.10 361.20,215.95 361.38,213.78 361.55,211.60 361.72,209.40 361.90,207.19 362.08,204.96 362.26,202.72 362.44,200.46 362.63,198.18 362.82,195.90 363.01,193.60 363.20,191.28 363.40,188.96 363.60,186.62 363.81,184.27 364.02,181.90 364.24,179.53 364.46,177.14 364.68,174.75 364.91,172.34 365.14,169.93 365.38,167.50 365.63,165.07 365.88,162.62 366.14,160.17 366.40,157.71 366.67,155.24 366.95,152.77 367.23,150.29 367.52,147.80 367.82,145.30 368.13,142.80 368.44,140.29 368.76,137.78 369.09,135.27 369.43,132.75 369.77,130.22 370.13,127.69 370.49,125.16 370.87,122.62 371.25,120.08 371.64,117.54 372.04,115.00 372.45,112.46 372.88,109.91 373.31,107.36 373.75,104.82 374.20,102.27 374.67,99.72 375.14,97.17 375.63,94.63 376.13,92.08 376.64,89.54 377.17,87.00 377.70,84.46 378.25,81.92 378.81,79.39 379.38,76.86 379.97,74.34 380.57,71.81 381.18,69.30 381.81,66.78 382.45,64.28 383.10,61.77 383.77,59.28 384.46,56.79 385.16,54.31 385.87,51.83 386.60,49.36 387.34,46.90 388.10,44.45 388.88,42.00 389.67,39.57 390.48,37.14 391.30,34.72 392.14,32.32 393.00,29.92 393.00,29.89 393.20,43.82 393.45,47.22 393.72,50.62 393.99,54.02 394.27,57.42 394.56,60.82 394.86,64.22 395.17,67.62 395.49,71.01 395.82,74.41 396.15,77.80 396.50,81.19 396.85,84.58 397.21,87.96 397.58,91.35 397.96,94.72 398.34,98.10 398.73,101.47 399.14,104.84 399.55,108.20 399.96,111.56 400.39,114.92 400.82,118.27 401.26,121.61 401.71,124.95 402.16,128.28 402.62,131.61 403.09,134.93 403.57,138.24 404.05,141.55 404.54,144.85 405.04,148.15 405.54,151.43 406.05,154.71 406.57,157.98 407.09,161.24 407.62,164.50 408.15,167.74 408.69,170.98 409.24,174.21 409.79,177.43 410.35,180.63 410.92,183.83 411.49,187.02 412.06,190.20 412.64,193.36 413.23,196.52 413.82,199.67 414.42,202.80 415.02,205.92 415.63,209.03 416.24,212.13 416.86,215.21 417.48,218.29 418.10,221.35 418.73,224.39 419.37,227.42 420.01,230.44 420.65,233.45 421.30,236.44" fill="none" stroke="#e83ce8" stroke-width="1.9" stroke-linejoin="round" stroke-linecap="round"/>
<polyline points="360.70,222.35 360.84,220.23 360.97,218.10 361.11,215.95 361.25,213.78 361.39,211.60 361.53,209.40 361.68,207.19 361.82,204.96 361.97,202.72 362.12,200.46 362.27,198.18 362.42,195.90 362.58,193.60 362.74,191.28 362.90,188.96 363.06,186.62 363.23,184.27 363.40,181.90 363.58,179.53 363.76,177.14 363.94,174.75 364.13,172.34 364.32,169.93 364.51,167.50 364.71,165.07 364.92,162.62 365.13,160.17 365.34,157.71 365.56,155.24 365.79,152.77 366.02,150.29 366.26,147.80 366.50,145.30 366.75,142.80 367.00,140.29 367.26,137.78 367.53,135.27 367.81,132.75 368.09,130.22 368.38,127.69 368.67,125.16 368.98,122.62 369.29,120.08 369.61,117.54 369.94,115.00 370.27,112.46 370.61,109.91 370.97,107.36 371.33,104.82 371.70,102.27 372.07,99.72 372.46,97.17 372.86,94.63 373.26,92.08 373.68,89.54 374.11,87.00 374.54,84.46 374.99,81.92 375.44,79.39 375.91,76.86 376.39,74.34 376.88,71.81 377.38,69.30 377.89,66.78 378.41,64.28 378.94,61.77 379.49,59.28 380.04,56.79 380.61,54.31 381.19,51.83 381.79,49.36 382.39,46.90 383.01,44.45 383.64,42.00 384.29,39.57 384.95,37.14 385.62,34.72 386.30,32.32 387.00,29.92 387.00,29.89 387.20,43.82 387.41,47.22 387.62,50.62 387.84,54.02 388.07,57.42 388.31,60.82 388.56,64.22 388.81,67.62 389.07,71.01 389.33,74.41 389.61,77.80 389.89,81.19 390.17,84.58 390.47,87.96 390.77,91.35 391.08,94.72 391.39,98.10 391.71,101.47 392.04,104.84 392.37,108.20 392.71,111.56 393.06,114.92 393.41,118.27 393.77,121.61 394.13,124.95 394.50,128.28 394.88,131.61 395.26,134.93 395.65,138.24 396.04,141.55 396.44,144.85 396.85,148.15 397.26,151.43 397.67,154.71 398.09,157.98 398.52,161.24 398.95,164.50 399.38,167.74 399.83,170.98 400.27,174.21 400.72,177.43 401.18,180.63 401.64,183.83 402.10,187.02 402.57,190.20 403.04,193.36 403.52,196.52 404.01,199.67 404.49,202.80 404.98,205.92 405.48,209.03 405.98,212.13 406.48,215.21 406.98,218.29 407.49,221.35 408.01,224.39 408.53,227.42 409.05,230.44 409.57,233.45 410.10,236.44" fill="none" stroke="#84842a" stroke-width="1.9" stroke-linejoin="round" stroke-linecap="round"/>
<polyline points="360.70,222.35 360.77,220.23 360.85,218.10 360.93,215.95 361.00,213.78 361.08,211.60 361.16,209.40 361.23,207.19 361.31,204.96 361.39,202.72 361.48,200.46 361.56,198.18 361.64,195.90 361.73,193.60 361.82,191.28 361.90,188.96 361.99,186.62 362.09,184.27 362.18,181.90 362.28,179.53 362.37,177.14 362.47,174.75 362.58,172.34 362.68,169.93 362.79,167.50 362.90,165.07 363.01,162.62 363.12,160.17 363.24,157.71 363.36,155.24 363.49,152.77 363.61,150.29 363.74,147.80 363.87,145.30 364.01,142.80 364.15,140.29 364.29,137.78 364.44,135.27 364.59,132.75 364.75,130.22 364.90,127.69 365.07,125.16 365.23,122.62 365.40,120.08 365.58,117.54 365.76,115.00 365.94,112.46 366.13,109.91 366.32,107.36 366.52,104.82 366.72,102.27 366.93,99.72 367.14,97.17 367.36,94.63 367.58,92.08 367.81,89.54 368.04,87.00 368.28,84.46 368.52,81.92 368.77,79.39 369.03,76.86 369.29,74.34 369.56,71.81 369.83,69.30 370.11,66.78 370.40,64.28 370.69,61.77 370.99,59.28 371.29,56.79 371.60,54.31 371.92,51.83 372.25,49.36 372.58,46.90 372.92,44.45 373.26,42.00 373.62,39.57 373.98,37.14 374.34,34.72 374.72,32.32 375.10,29.92 375.10,29.89 375.30,43.82 375.42,47.22 375.54,50.62 375.67,54.02 375.80,57.42 375.93,60.82 376.07,64.22 376.21,67.62 376.36,71.01 376.51,74.41 376.67,77.80 376.82,81.19 376.99,84.58 377.15,87.96 377.33,91.35 377.50,94.72 377.68,98.10 377.86,101.47 378.05,104.84 378.24,108.20 378.43,111.56 378.63,114.92 378.83,118.27 379.03,121.61 379.24,124.95 379.45,128.28 379.66,131.61 379.88,134.93 380.10,138.24 380.32,141.55 380.55,144.85 380.78,148.15 381.01,151.43 381.24,154.71 381.48,157.98 381.73,161.24 381.97,164.50 382.22,167.74 382.47,170.98 382.72,174.21 382.98,177.43 383.23,180.63 383.50,183.83 383.76,187.02 384.03,190.20 384.29,193.36 384.57,196.52 384.84,199.67 385.12,202.80 385.39,205.92 385.68,209.03 385.96,212.13 386.24,215.21 386.53,218.29 386.82,221.35 387.11,224.39 387.41,227.42 387.70,230.44 388.00,233.45 388.30,236.44" fill="none" stroke="#10106e" stroke-width="1.9" stroke-linejoin="round" stroke-linecap="round"/>
<polyline points="360.70,222.35 360.74,220.23 360.79,218.10 360.84,215.95 360.88,213.78 360.93,211.60 360.98,209.40 361.02,207.19 361.07,204.96 361.12,202.72 361.17,200.46 361.22,198.18 361.27,195.90 361.32,193.60 361.37,191.28 361.43,188.96 361.48,186.62 361.54,184.27 361.59,181.90 361.65,179.53 361.71,177.14 361.77,174.75 361.83,172.34 361.90,169.93 361.96,167.50 362.03,165.07 362.10,162.62 362.16,160.17 362.24,157.71 362.31,155.24 362.38,152.77 362.46,150.29 362.54,147.80 362.62,145.30 362.70,142.80 362.78,140.29 362.87,137.78 362.96,135.27 363.05,132.75 363.14,130.22 363.24,127.69 363.34,125.16 363.44,122.62 363.54,120.08 363.65,117.54 363.75,115.00 363.87,112.46 363.98,109.91 364.10,107.36 364.22,104.82 364.34,102.27 364.46,99.72 364.59,97.17 364.72,94.63 364.86,92.08 364.99,89.54 365.13,87.00 365.28,84.46 365.43,81.92 365.58,79.39 365.73,76.86 365.89,74.34 366.05,71.81 366.22,69.30 366.39,66.78 366.56,64.28 366.73,61.77 366.91,59.28 367.10,56.79 367.29,54.31 367.48,51.83 367.68,49.36 367.88,46.90 368.08,44.45 368.29,42.00 368.50,39.57 368.72,37.14 368.94,34.72 369.17,32.32 369.40,29.92 369.40,29.89 369.60,43.82 369.68,47.22 369.75,50.62 369.84,54.02 369.92,57.42 370.01,60.82 370.10,64.22 370.19,67.62 370.28,71.01 370.38,74.41 370.48,77.80 370.59,81.19 370.69,84.58 370.80,87.96 370.91,91.35 371.02,94.72 371.14,98.10 371.25,101.47 371.37,104.84 371.50,108.20 371.62,111.56 371.75,114.92 371.88,118.27 372.01,121.61 372.14,124.95 372.28,128.28 372.42,131.61 372.56,134.93 372.70,138.24 372.84,141.55 372.99,144.85 373.14,148.15 373.29,151.43 373.44,154.71 373.60,157.98 373.75,161.24 373.91,164.50 374.07,167.74 374.23,170.98 374.39,174.21 374.56,177.43 374.73,180.63 374.90,183.83 375.07,187.02 375.24,190.20 375.41,193.36 375.59,196.52 375.76,199.67 375.94,202.80 376.12,205.92 376.30,209.03 376.49,212.13 376.67,215.21 376.86,218.29 377.04,221.35 377.23,224.39 377.42,227.42 377.61,230.44 377.81,233.45 378.00,236.44" fill="none" stroke="#781212" stroke-width="1.9" stroke-linejoin="round" stroke-linecap="round"/>
<polyline points="360.70,222.35 360.73,220.23 360.77,218.10 360.80,215.95 360.84,213.78 360.87,211.60 360.91,209.40 360.95,207.19 360.98,204.96 361.02,202.72 361.06,200.46 361.09,198.18 361.13,195.90 361.17,193.60 361.21,191.28 361.25,188.96 361.29,186.62 361.34,184.27 361.38,181.90 361.42,179.53 361.47,177.14 361.51,174.75 361.56,172.34 361.61,169.93 361.66,167.50 361.71,165.07 361.76,162.62 361.81,160.17 361.87,157.71 361.92,155.24 361.98,152.77 362.03,150.29 362.09,147.80 362.16,145.30 362.22,142.80 362.28,140.29 362.35,137.78 362.41,135.27 362.48,132.75 362.55,130.22 362.63,127.69 362.70,125.16 362.78,122.62 362.86,120.08 362.94,117.54 363.02,115.00 363.10,112.46 363.19,109.91 363.28,107.36 363.37,104.82 363.46,102.27 363.55,99.72 363.65,97.17 363.75,94.63 363.85,92.08 363.96,89.54 364.06,87.00 364.17,84.46 364.29,81.92 364.40,79.39 364.52,76.86 364.64,74.34 364.76,71.81 364.89,69.30 365.01,66.78 365.14,64.28 365.28,61.77 365.41,59.28 365.55,56.79 365.70,54.31 365.84,51.83 365.99,49.36 366.14,46.90 366.30,44.45 366.46,42.00 366.62,39.57 366.78,37.14 366.95,34.72 367.13,32.32 367.30,29.92 367.30,29.89 367.50,43.82 367.54,47.22 367.59,50.62 367.64,54.02 367.69,57.42 367.74,60.82 367.79,64.22 367.84,67.62 367.90,71.01 367.96,74.41 368.01,77.80 368.07,81.19 368.14,84.58 368.20,87.96 368.26,91.35 368.33,94.72 368.40,98.10 368.47,101.47 368.54,104.84 368.61,108.20 368.68,111.56 368.75,114.92 368.83,118.27 368.91,121.61 368.98,124.95 369.06,128.28 369.14,131.61 369.22,134.93 369.31,138.24 369.39,141.55 369.48,144.85 369.56,148.15 369.65,151.43 369.74,154.71 369.83,157.98 369.92,161.24 370.01,164.50 370.11,167.74 370.20,170.98 370.30,174.21 370.39,177.43 370.49,180.63 370.59,183.83 370.69,187.02 370.79,190.20 370.89,193.36 370.99,196.52 371.10,199.67 371.20,202.80 371.30,205.92 371.41,209.03 371.52,212.13 371.63,215.21 371.73,218.29 371.84,221.35 371.95,224.39 372.06,227.42 372.17,230.44 372.29,233.45 372.40,236.44" fill="none" stroke="#dc1e68" stroke-width="1.9" stroke-linejoin="round" stroke-linecap="round"/>
<polyline points="360.70,222.35 360.72,220.23 360.74,218.10 360.76,215.95 360.79,213.78 360.81,211.60 360.83,209.40 360.85,207.19 360.87,204.96 360.90,202.72 360.92,200.46 360.94,198.18 360.97,195.90 360.99,193.60 361.02,191.28 361.04,188.96 361.07,186.62 361.09,184.27 361.12,181.90 361.15,179.53 361.18,177.14 361.21,174.75 361.23,172.34 361.26,169.93 361.29,167.50 361.33,165.07 361.36,162.62 361.39,160.17 361.42,157.71 361.46,155.24 361.49,152.77 361.53,150.29 361.57,147.80 361.60,145.30 361.64,142.80 361.68,140.29 361.72,137.78 361.77,135.27 361.81,132.75 361.85,130.22 361.90,127.69 361.94,125.16 361.99,122.62 362.04,120.08 362.09,117.54 362.14,115.00 362.19,112.46 362.25,109.91 362.30,107.36 362.36,104.82 362.41,102.27 362.47,99.72 362.53,97.17 362.60,94.63 362.66,92.08 362.72,89.54 362.79,87.00 362.86,84.46 362.93,81.92 363.00,79.39 363.07,76.86 363.15,74.34 363.22,71.81 363.30,69.30 363.38,66.78 363.46,64.28 363.54,61.77 363.63,59.28 363.72,56.79 363.80,54.31 363.89,51.83 363.99,49.36 364.08,46.90 364.18,44.45 364.28,42.00 364.38,39.57 364.48,37.14 364.58,34.72 364.69,32.32 364.80,29.92 364.80,29.89 365.00,43.82 365.04,47.22 365.08,50.62 365.12,54.02 365.16,57.42 365.20,60.82 365.25,64.22 365.29,67.62 365.34,71.01 365.39,74.41 365.44,77.80 365.49,81.19 365.55,84.58 365.60,87.96 365.65,91.35 365.71,94.72 365.77,98.10 365.83,101.47 365.89,104.84 365.95,108.20 366.01,111.56 366.07,114.92 366.14,118.27 366.20,121.61 366.27,124.95 366.34,128.28 366.41,131.61 366.48,134.93 366.55,138.24 366.62,141.55 366.70,144.85 366.77,148.15 366.84,151.43 366.92,154.71 367.00,157.98 367.08,161.24 367.15,164.50 367.23,167.74 367.32,170.98 367.40,174.21 367.48,177.43 367.56,180.63 367.65,183.83 367.73,187.02 367.82,190.20 367.91,193.36 367.99,196.52 368.08,199.67 368.17,202.80 368.26,205.92 368.35,209.03 368.44,212.13 368.54,215.21 368.63,218.29 368.72,221.35 368.82,224.39 368.91,227.42 369.01,230.44 369.10,233.45 369.20,236.44" fill="none" stroke="#1c7c1c" stroke-width="1.9" stroke-linejoin="round" stroke-linecap="round"/>
<polyline points="360.70,222.35 360.71,220.23 360.72,218.10 360.73,215.95 360.74,213.78 360.75,211.60 360.76,209.40 360.77,207.19 360.78,204.96 360.79,202.72 360.80,200.46 360.81,198.18 360.82,195.90 360.84,193.60 360.85,191.28 360.86,188.96 360.87,186.62 360.88,184.27 360.90,181.90 360.91,179.53 360.92,177.14 360.93,174.75 360.95,172.34 360.96,169.93 360.98,167.50 360.99,165.07 361.00,162.62 361.02,160.17 361.04,157.71 361.05,155.24 361.07,152.77 361.08,150.29 361.10,147.80 361.12,145.30 361.14,142.80 361.16,140.29 361.17,137.78 361.19,135.27 361.21,132.75 361.23,130.22 361.25,127.69 361.28,125.16 361.30,122.62 361.32,120.08 361.34,117.54 361.37,115.00 361.39,112.46 361.42,109.91 361.44,107.36 361.47,104.82 361.49,102.27 361.52,99.72 361.55,97.17 361.58,94.63 361.61,92.08 361.64,89.54 361.67,87.00 361.70,84.46 361.73,81.92 361.77,79.39 361.80,76.86 361.83,74.34 361.87,71.81 361.90,69.30 361.94,66.78 361.98,64.28 362.02,61.77 362.06,59.28 362.10,56.79 362.14,54.31 362.18,51.83 362.22,49.36 362.27,46.90 362.31,44.45 362.36,42.00 362.40,39.57 362.45,37.14 362.50,34.72 362.55,32.32 362.60,29.92 362.60,29.89 362.80,43.82 362.83,47.22 362.85,50.62 362.88,54.02 362.91,57.42 362.94,60.82 362.97,64.22 363.00,67.62 363.03,71.01 363.06,74.41 363.09,77.80 363.13,81.19 363.16,84.58 363.20,87.96 363.24,91.35 363.27,94.72 363.31,98.10 363.35,101.47 363.39,104.84 363.43,108.20 363.47,111.56 363.52,114.92 363.56,118.27 363.60,121.61 363.65,124.95 363.69,128.28 363.74,131.61 363.79,134.93 363.83,138.24 363.88,141.55 363.93,144.85 363.98,148.15 364.03,151.43 364.08,154.71 364.13,157.98 364.18,161.24 364.24,164.50 364.29,167.74 364.34,170.98 364.40,174.21 364.45,177.43 364.51,180.63 364.57,183.83 364.62,187.02 364.68,190.20 364.74,193.36 364.80,196.52 364.85,199.67 364.91,202.80 364.97,205.92 365.03,209.03 365.10,212.13 365.16,215.21 365.22,218.29 365.28,221.35 365.34,224.39 365.41,227.42 365.47,230.44 365.54,233.45 365.60,236.44" fill="none" stroke="#1c24a8" stroke-width="1.9" stroke-linejoin="round" stroke-linecap="round"/>
<polyline points="360.70,222.35 360.71,220.23 360.72,218.10 360.73,215.95 360.74,213.78 360.74,211.60 360.75,209.40 360.76,207.19 360.77,204.96 360.78,202.72 360.79,200.46 360.80,198.18 360.81,195.90 360.82,193.60 360.83,191.28 360.84,188.96 360.85,186.62 360.86,184.27 360.87,181.90 360.89,179.53 360.90,177.14 360.91,174.75 360.92,172.34 360.93,169.93 360.95,167.50 360.96,165.07 360.97,162.62 360.99,160.17 361.00,157.71 361.01,155.24 361.03,152.77 361.04,150.29 361.06,147.80 361.07,145.30 361.09,142.80 361.11,140.29 361.12,137.78 361.14,135.27 361.16,132.75 361.18,130.22 361.20,127.69 361.22,125.16 361.24,122.62 361.26,120.08 361.28,117.54 361.30,115.00 361.32,112.46 361.34,109.91 361.36,107.36 361.39,104.82 361.41,102.27 361.44,99.72 361.46,97.17 361.49,94.63 361.51,92.08 361.54,89.54 361.57,87.00 361.59,84.46 361.62,81.92 361.65,79.39 361.68,76.86 361.71,74.34 361.75,71.81 361.78,69.30 361.81,66.78 361.84,64.28 361.88,61.77 361.91,59.28 361.95,56.79 361.99,54.31 362.02,51.83 362.06,49.36 362.10,46.90 362.14,44.45 362.18,42.00 362.22,39.57 362.27,37.14 362.31,34.72 362.35,32.32 362.40,29.92 362.40,29.89 362.60,43.82 362.62,47.22 362.64,50.62 362.66,54.02 362.69,57.42 362.71,60.82 362.74,64.22 362.76,67.62 362.79,71.01 362.81,74.41 362.84,77.80 362.87,81.19 362.90,84.58 362.93,87.96 362.96,91.35 362.99,94.72 363.02,98.10 363.05,101.47 363.09,104.84 363.12,108.20 363.15,111.56 363.19,114.92 363.22,118.27 363.26,121.61 363.30,124.95 363.33,128.28 363.37,131.61 363.41,134.93 363.45,138.24 363.49,141.55 363.53,144.85 363.57,148.15 363.61,151.43 363.65,154.71 363.69,157.98 363.74,161.24 363.78,164.50 363.82,167.74 363.87,170.98 363.91,174.21 363.96,177.43 364.00,180.63 364.05,183.83 364.10,187.02 364.14,190.20 364.19,193.36 364.24,196.52 364.29,199.67 364.34,202.80 364.39,205.92 364.44,209.03 364.49,212.13 364.54,215.21 364.59,218.29 364.64,221.35 364.69,224.39 364.74,227.42 364.79,230.44 364.85,233.45 364.90,236.44" fill="none" stroke="#eb9236" stroke-width="1.9" stroke-linejoin="round" stroke-linecap="round"/>
<line x1="589.70" y1="19.80" x2="610.90" y2="19.80" stroke="#000000" stroke-width="2.0"/>
<text transform="translate(612.90,23.20) scale(0.82,1)" font-size="9.9" text-anchor="start" font-weight="normal" fill="#1e1e1e" stroke="#1e1e1e" stroke-width="0.1" textLength="34.39" lengthAdjust="spacing" style="">0.3 A/g</text>
<line x1="589.70" y1="31.95" x2="610.90" y2="31.95" stroke="#dc2424" stroke-width="2.0"/>
<text transform="translate(612.90,35.35) scale(0.82,1)" font-size="9.9" text-anchor="start" font-weight="normal" fill="#1e1e1e" stroke="#1e1e1e" stroke-width="0.1" textLength="34.39" lengthAdjust="spacing" style="">0.4 A/g</text>
<line x1="589.70" y1="44.10" x2="610.90" y2="44.10" stroke="#1414c8" stroke-width="2.0"/>
<text transform="translate(612.90,47.50) scale(0.82,1)" font-size="9.9" text-anchor="start" font-weight="normal" fill="#1e1e1e" stroke="#1e1e1e" stroke-width="0.1" textLength="34.39" lengthAdjust="spacing" style="">0.5 A/g</text>
<line x1="589.70" y1="56.25" x2="610.90" y2="56.25" stroke="#1e8a7e" stroke-width="2.0"/>
<text transform="translate(612.90,59.65) scale(0.82,1)" font-size="9.9" text-anchor="start" font-weight="normal" fill="#1e1e1e" stroke="#1e1e1e" stroke-width="0.1" textLength="34.39" lengthAdjust="spacing" style="">0.6 A/g</text>
<line x1="589.70" y1="68.40" x2="610.90" y2="68.40" stroke="#e83ce8" stroke-width="2.0"/>
<text transform="translate(612.90,71.80) scale(0.82,1)" font-size="9.9" text-anchor="start" font-weight="normal" fill="#1e1e1e" stroke="#1e1e1e" stroke-width="0.1" textLength="34.39" lengthAdjust="spacing" style="">0.7 A/g</text>
<line x1="589.70" y1="80.55" x2="610.90" y2="80.55" stroke="#84842a" stroke-width="2.0"/>
<text transform="translate(612.90,83.95) scale(0.82,1)" font-size="9.9" text-anchor="start" font-weight="normal" fill="#1e1e1e" stroke="#1e1e1e" stroke-width="0.1" textLength="34.39" lengthAdjust="spacing" style="">0.8 A/g</text>
<line x1="589.70" y1="92.70" x2="610.90" y2="92.70" stroke="#10106e" stroke-width="2.0"/>
<text transform="translate(612.90,96.10) scale(0.82,1)" font-size="9.9" text-anchor="start" font-weight="normal" fill="#1e1e1e" stroke="#1e1e1e" stroke-width="0.1" textLength="34.39" lengthAdjust="spacing" style="">0.9 A/g</text>
<line x1="589.70" y1="104.85" x2="610.90" y2="104.85" stroke="#781212" stroke-width="2.0"/>
<text transform="translate(612.90,108.25) scale(0.82,1)" font-size="9.9" text-anchor="start" font-weight="normal" fill="#1e1e1e" stroke="#1e1e1e" stroke-width="0.1" textLength="25.61" lengthAdjust="spacing" style="">1 A/g</text>
<line x1="589.70" y1="117.00" x2="610.90" y2="117.00" stroke="#dc1e68" stroke-width="2.0"/>
<text transform="translate(612.90,120.40) scale(0.82,1)" font-size="9.9" text-anchor="start" font-weight="normal" fill="#1e1e1e" stroke="#1e1e1e" stroke-width="0.1" textLength="25.61" lengthAdjust="spacing" style="">2 A/g</text>
<line x1="589.70" y1="129.15" x2="610.90" y2="129.15" stroke="#1c7c1c" stroke-width="2.0"/>
<text transform="translate(612.90,132.55) scale(0.82,1)" font-size="9.9" text-anchor="start" font-weight="normal" fill="#1e1e1e" stroke="#1e1e1e" stroke-width="0.1" textLength="25.61" lengthAdjust="spacing" style="">4 A/g</text>
<line x1="589.70" y1="141.30" x2="610.90" y2="141.30" stroke="#1c24a8" stroke-width="2.0"/>
<text transform="translate(612.90,144.70) scale(0.82,1)" font-size="9.9" text-anchor="start" font-weight="normal" fill="#1e1e1e" stroke="#1e1e1e" stroke-width="0.1" textLength="25.61" lengthAdjust="spacing" style="">6 A/g</text>
<line x1="589.70" y1="153.45" x2="610.90" y2="153.45" stroke="#eb9236" stroke-width="2.0"/>
<text transform="translate(612.90,156.85) scale(0.82,1)" font-size="9.9" text-anchor="start" font-weight="normal" fill="#1e1e1e" stroke="#1e1e1e" stroke-width="0.1" textLength="25.61" lengthAdjust="spacing" style="">8 A/g</text>
<line x1="533.70" y1="31.00" x2="533.70" y2="46.00" stroke="#111" stroke-width="0.9"/>
<path d="M531.6,32.8 L533.7,29.2 L535.8,32.8 Z M531.6,44.2 L533.7,47.9 L535.8,44.2 Z" fill="#111"/>
<text transform="translate(538.50,41.80) scale(0.88,1)" font-size="9.8" text-anchor="start" font-weight="normal" fill="#1e1e1e" stroke="#1e1e1e" stroke-width="0.1" style="">IR drop</text>
<line x1="33.00" y1="506.50" x2="313.00" y2="506.50" stroke="#2a2a2a" stroke-width="1"/>
<line x1="33.50" y1="507.00" x2="33.50" y2="274.00" stroke="#2a2a2a" stroke-width="1"/>
<line x1="33.00" y1="274.50" x2="313.00" y2="274.50" stroke="#2a2a2a" stroke-width="1"/>
<line x1="312.50" y1="274.00" x2="312.50" y2="507.00" stroke="#2a2a2a" stroke-width="1"/>
<line x1="33.50" y1="506.50" x2="33.50" y2="511.70" stroke="#2a2a2a" stroke-width="1"/>
<text transform="translate(33.10,523.80) scale(0.86,1)" font-size="10.2" text-anchor="middle" font-weight="normal" fill="#1e1e1e" stroke="#1e1e1e" stroke-width="0.1" style="">0</text>
<line x1="67.50" y1="506.50" x2="67.50" y2="511.70" stroke="#2a2a2a" stroke-width="1"/>
<text transform="translate(67.97,523.80) scale(0.86,1)" font-size="10.2" text-anchor="middle" font-weight="normal" fill="#1e1e1e" stroke="#1e1e1e" stroke-width="0.1" style="">500</text>
<line x1="102.50" y1="506.50" x2="102.50" y2="511.70" stroke="#2a2a2a" stroke-width="1"/>
<text transform="translate(102.85,523.80) scale(0.86,1)" font-size="10.2" text-anchor="middle" font-weight="normal" fill="#1e1e1e" stroke="#1e1e1e" stroke-width="0.1" style="">1000</text>
<line x1="137.50" y1="506.50" x2="137.50" y2="511.70" stroke="#2a2a2a" stroke-width="1"/>
<text transform="translate(137.72,523.80) scale(0.86,1)" font-size="10.2" text-anchor="middle" font-weight="normal" fill="#1e1e1e" stroke="#1e1e1e" stroke-width="0.1" style="">1500</text>
<line x1="172.50" y1="506.50" x2="172.50" y2="511.70" stroke="#2a2a2a" stroke-width="1"/>
<text transform="translate(172.60,523.80) scale(0.86,1)" font-size="10.2" text-anchor="middle" font-weight="normal" fill="#1e1e1e" stroke="#1e1e1e" stroke-width="0.1" style="">2000</text>
<line x1="207.50" y1="506.50" x2="207.50" y2="511.70" stroke="#2a2a2a" stroke-width="1"/>
<text transform="translate(207.47,523.80) scale(0.86,1)" font-size="10.2" text-anchor="middle" font-weight="normal" fill="#1e1e1e" stroke="#1e1e1e" stroke-width="0.1" style="">2500</text>
<line x1="242.50" y1="506.50" x2="242.50" y2="511.70" stroke="#2a2a2a" stroke-width="1"/>
<text transform="translate(242.35,523.80) scale(0.86,1)" font-size="10.2" text-anchor="middle" font-weight="normal" fill="#1e1e1e" stroke="#1e1e1e" stroke-width="0.1" style="">3000</text>
<line x1="277.50" y1="506.50" x2="277.50" y2="511.70" stroke="#2a2a2a" stroke-width="1"/>
<text transform="translate(277.23,523.80) scale(0.86,1)" font-size="10.2" text-anchor="middle" font-weight="normal" fill="#1e1e1e" stroke="#1e1e1e" stroke-width="0.1" style="">3500</text>
<line x1="312.50" y1="506.50" x2="312.50" y2="511.70" stroke="#2a2a2a" stroke-width="1"/>
<text transform="translate(312.10,523.80) scale(0.86,1)" font-size="10.2" text-anchor="middle" font-weight="normal" fill="#1e1e1e" stroke="#1e1e1e" stroke-width="0.1" style="">4000</text>
<line x1="50.50" y1="506.50" x2="50.50" y2="509.50" stroke="#2a2a2a" stroke-width="1"/>
<line x1="85.50" y1="506.50" x2="85.50" y2="509.50" stroke="#2a2a2a" stroke-width="1"/>
<line x1="120.50" y1="506.50" x2="120.50" y2="509.50" stroke="#2a2a2a" stroke-width="1"/>
<line x1="155.50" y1="506.50" x2="155.50" y2="509.50" stroke="#2a2a2a" stroke-width="1"/>
<line x1="190.50" y1="506.50" x2="190.50" y2="509.50" stroke="#2a2a2a" stroke-width="1"/>
<line x1="224.50" y1="506.50" x2="224.50" y2="509.50" stroke="#2a2a2a" stroke-width="1"/>
<line x1="259.50" y1="506.50" x2="259.50" y2="509.50" stroke="#2a2a2a" stroke-width="1"/>
<line x1="294.50" y1="506.50" x2="294.50" y2="509.50" stroke="#2a2a2a" stroke-width="1"/>
<line x1="29.00" y1="506.50" x2="33.50" y2="506.50" stroke="#2a2a2a" stroke-width="1"/>
<text transform="translate(26.40,510.10) scale(0.86,1)" font-size="10.2" text-anchor="end" font-weight="normal" fill="#1e1e1e" stroke="#1e1e1e" stroke-width="0.1" style="">0</text>
<line x1="29.00" y1="464.50" x2="33.50" y2="464.50" stroke="#2a2a2a" stroke-width="1"/>
<text transform="translate(26.40,467.95) scale(0.86,1)" font-size="10.2" text-anchor="end" font-weight="normal" fill="#1e1e1e" stroke="#1e1e1e" stroke-width="0.1" style="">10</text>
<line x1="29.00" y1="422.50" x2="33.50" y2="422.50" stroke="#2a2a2a" stroke-width="1"/>
<text transform="translate(26.40,425.81) scale(0.86,1)" font-size="10.2" text-anchor="end" font-weight="normal" fill="#1e1e1e" stroke="#1e1e1e" stroke-width="0.1" style="">20</text>
<line x1="29.00" y1="379.50" x2="33.50" y2="379.50" stroke="#2a2a2a" stroke-width="1"/>
<text transform="translate(26.40,383.66) scale(0.86,1)" font-size="10.2" text-anchor="end" font-weight="normal" fill="#1e1e1e" stroke="#1e1e1e" stroke-width="0.1" style="">30</text>
<line x1="29.00" y1="337.50" x2="33.50" y2="337.50" stroke="#2a2a2a" stroke-width="1"/>
<text transform="translate(26.40,341.52) scale(0.86,1)" font-size="10.2" text-anchor="end" font-weight="normal" fill="#1e1e1e" stroke="#1e1e1e" stroke-width="0.1" style="">40</text>
<line x1="29.00" y1="295.50" x2="33.50" y2="295.50" stroke="#2a2a2a" stroke-width="1"/>
<text transform="translate(26.40,299.37) scale(0.86,1)" font-size="10.2" text-anchor="end" font-weight="normal" fill="#1e1e1e" stroke="#1e1e1e" stroke-width="0.1" style="">50</text>
<line x1="31.00" y1="485.50" x2="33.50" y2="485.50" stroke="#2a2a2a" stroke-width="1"/>
<line x1="31.00" y1="443.50" x2="33.50" y2="443.50" stroke="#2a2a2a" stroke-width="1"/>
<line x1="31.00" y1="401.50" x2="33.50" y2="401.50" stroke="#2a2a2a" stroke-width="1"/>
<line x1="31.00" y1="358.50" x2="33.50" y2="358.50" stroke="#2a2a2a" stroke-width="1"/>
<line x1="31.00" y1="316.50" x2="33.50" y2="316.50" stroke="#2a2a2a" stroke-width="1"/>
<text transform="translate(172.80,543.00)" font-size="12" text-anchor="middle" font-weight="normal" fill="#1e1e1e" stroke="#1e1e1e" stroke-width="0.1" textLength="106.00" lengthAdjust="spacingAndGlyphs" style="">Specific power (W/kg)</text>
<text transform="translate(10.20,395.00) rotate(-90) scale(1,0.86)" font-size="12" text-anchor="middle" font-weight="normal" fill="#1e1e1e" stroke="#1e1e1e" stroke-width="0.1" textLength="123.50" lengthAdjust="spacingAndGlyphs" style="">Specific energy (Wh/kg)</text>
<text transform="translate(37.30,292.70) scale(0.79,1)" font-size="19.8" text-anchor="start" font-weight="bold" fill="#1e1e1e" style="">c</text>
<text transform="translate(121.00,311.20)" font-size="9.6" text-anchor="start" font-weight="normal" fill="#1e1e1e" stroke="#1e1e1e" stroke-width="0.1" textLength="101.00" lengthAdjust="spacingAndGlyphs" style=""><tspan font-style="italic">f</tspan><tspan dx="-0.9">-</tspan>CNFs/PEDOT/MnO<tspan font-size="6.5" dy="2.5">2</tspan><tspan dy="-2.5">//AC</tspan></text>
<polyline points="48.90,298.30 53.60,311.90 58.40,332.20 62.50,345.10 66.40,359.80 70.20,366.30 78.50,381.00 80.00,401.90 122.00,427.50 188.30,443.50 251.50,449.30 301.10,461.20" fill="none" stroke="#000000" stroke-width="1.0" stroke-linejoin="round" stroke-linecap="round"/>
<ellipse cx="48.90" cy="298.30" rx="5.6" ry="6.4" fill="url(#sph)"/>
<ellipse cx="53.60" cy="311.90" rx="5.6" ry="6.4" fill="url(#sph)"/>
<ellipse cx="58.40" cy="332.20" rx="5.6" ry="6.4" fill="url(#sph)"/>
<ellipse cx="62.50" cy="345.10" rx="5.6" ry="6.4" fill="url(#sph)"/>
<ellipse cx="66.40" cy="359.80" rx="5.6" ry="6.4" fill="url(#sph)"/>
<ellipse cx="70.20" cy="366.30" rx="5.6" ry="6.4" fill="url(#sph)"/>
<ellipse cx="78.50" cy="381.00" rx="5.6" ry="6.4" fill="url(#sph)"/>
<ellipse cx="80.00" cy="401.90" rx="5.6" ry="6.4" fill="url(#sph)"/>
<ellipse cx="122.00" cy="427.50" rx="5.6" ry="6.4" fill="url(#sph)"/>
<ellipse cx="188.30" cy="443.50" rx="5.6" ry="6.4" fill="url(#sph)"/>
<ellipse cx="251.50" cy="449.30" rx="5.6" ry="6.4" fill="url(#sph)"/>
<ellipse cx="301.10" cy="461.20" rx="5.6" ry="6.4" fill="url(#sph)"/>
<circle cx="35.0" cy="377.0" r="4.3" fill="#000"/>
<path d="M35.2,398.4 L45.6,398.4 L40.4,409 Z" fill="#1a8080"/>
<polygon points="71.97,425.15 67.90,428.10 63.83,425.15 63.83,419.25 67.90,416.30 71.97,419.25" fill="#808000"/>
<polygon points="102.90,410.80 104.49,415.27 108.81,415.57 105.47,418.63 106.55,423.28 102.90,420.70 99.25,423.28 100.33,418.63 96.99,415.57 101.31,415.27" fill="#0a0af0"/>
<path d="M102.1,429.2 L108,435.5 L102.1,441.8 L96.2,435.5 Z" fill="#000080"/>
<rect x="46.0" y="461.5" width="8" height="9" fill="#ff00ff"/>
<text transform="translate(41.80,377.00) scale(0.9,1)" font-size="12.3" text-anchor="start" font-weight="normal" fill="#1e1e1e" stroke="#1e1e1e" stroke-width="0.1" style="">[46]</text>
<text transform="translate(46.70,402.00) scale(0.9,1)" font-size="12.3" text-anchor="start" font-weight="normal" fill="#1e1e1e" stroke="#1e1e1e" stroke-width="0.1" style="">[21]</text>
<text transform="translate(105.70,410.80) scale(0.9,1)" font-size="12.3" text-anchor="start" font-weight="normal" fill="#1e1e1e" stroke="#1e1e1e" stroke-width="0.1" style="">[45]</text>
<text transform="translate(62.70,439.60) scale(0.9,1)" font-size="12.3" text-anchor="start" font-weight="normal" fill="#1e1e1e" stroke="#1e1e1e" stroke-width="0.1" style="">[39]</text>
<text transform="translate(99.80,452.60) scale(0.9,1)" font-size="12.3" text-anchor="start" font-weight="normal" fill="#1e1e1e" stroke="#1e1e1e" stroke-width="0.1" style="">[44]</text>
<text transform="translate(57.60,477.40) scale(0.9,1)" font-size="12.3" text-anchor="start" font-weight="normal" fill="#1e1e1e" stroke="#1e1e1e" stroke-width="0.1" style="">[4]</text>
<line x1="370.00" y1="510.50" x2="649.00" y2="510.50" stroke="#2a2a2a" stroke-width="1"/>
<line x1="370.50" y1="511.00" x2="370.50" y2="281.00" stroke="#2a2a2a" stroke-width="1"/>
<line x1="370.00" y1="281.50" x2="649.00" y2="281.50" stroke="#2a2a2a" stroke-width="1"/>
<line x1="648.50" y1="281.00" x2="648.50" y2="511.00" stroke="#2a2a2a" stroke-width="1"/>
<line x1="370.50" y1="510.50" x2="370.50" y2="515.70" stroke="#2a2a2a" stroke-width="1"/>
<text transform="translate(370.50,526.70) scale(0.86,1)" font-size="10.2" text-anchor="middle" font-weight="normal" fill="#1e1e1e" stroke="#1e1e1e" stroke-width="0.1" style="">0</text>
<line x1="401.50" y1="510.50" x2="401.50" y2="515.70" stroke="#2a2a2a" stroke-width="1"/>
<text transform="translate(401.39,526.70) scale(0.86,1)" font-size="10.2" text-anchor="middle" font-weight="normal" fill="#1e1e1e" stroke="#1e1e1e" stroke-width="0.1" style="">20</text>
<line x1="432.50" y1="510.50" x2="432.50" y2="515.70" stroke="#2a2a2a" stroke-width="1"/>
<text transform="translate(432.28,526.70) scale(0.86,1)" font-size="10.2" text-anchor="middle" font-weight="normal" fill="#1e1e1e" stroke="#1e1e1e" stroke-width="0.1" style="">40</text>
<line x1="463.50" y1="510.50" x2="463.50" y2="515.70" stroke="#2a2a2a" stroke-width="1"/>
<text transform="translate(463.17,526.70) scale(0.86,1)" font-size="10.2" text-anchor="middle" font-weight="normal" fill="#1e1e1e" stroke="#1e1e1e" stroke-width="0.1" style="">60</text>
<line x1="494.50" y1="510.50" x2="494.50" y2="515.70" stroke="#2a2a2a" stroke-width="1"/>
<text transform="translate(494.06,526.70) scale(0.86,1)" font-size="10.2" text-anchor="middle" font-weight="normal" fill="#1e1e1e" stroke="#1e1e1e" stroke-width="0.1" style="">80</text>
<line x1="524.50" y1="510.50" x2="524.50" y2="515.70" stroke="#2a2a2a" stroke-width="1"/>
<text transform="translate(524.94,526.70) scale(0.86,1)" font-size="10.2" text-anchor="middle" font-weight="normal" fill="#1e1e1e" stroke="#1e1e1e" stroke-width="0.1" style="">100</text>
<line x1="555.50" y1="510.50" x2="555.50" y2="515.70" stroke="#2a2a2a" stroke-width="1"/>
<text transform="translate(555.83,526.70) scale(0.86,1)" font-size="10.2" text-anchor="middle" font-weight="normal" fill="#1e1e1e" stroke="#1e1e1e" stroke-width="0.1" style="">120</text>
<line x1="586.50" y1="510.50" x2="586.50" y2="515.70" stroke="#2a2a2a" stroke-width="1"/>
<text transform="translate(586.72,526.70) scale(0.86,1)" font-size="10.2" text-anchor="middle" font-weight="normal" fill="#1e1e1e" stroke="#1e1e1e" stroke-width="0.1" style="">140</text>
<line x1="617.50" y1="510.50" x2="617.50" y2="515.70" stroke="#2a2a2a" stroke-width="1"/>
<text transform="translate(617.61,526.70) scale(0.86,1)" font-size="10.2" text-anchor="middle" font-weight="normal" fill="#1e1e1e" stroke="#1e1e1e" stroke-width="0.1" style="">160</text>
<line x1="648.50" y1="510.50" x2="648.50" y2="515.70" stroke="#2a2a2a" stroke-width="1"/>
<text transform="translate(648.50,526.70) scale(0.86,1)" font-size="10.2" text-anchor="middle" font-weight="normal" fill="#1e1e1e" stroke="#1e1e1e" stroke-width="0.1" style="">180</text>
<line x1="385.50" y1="510.50" x2="385.50" y2="513.50" stroke="#2a2a2a" stroke-width="1"/>
<line x1="416.50" y1="510.50" x2="416.50" y2="513.50" stroke="#2a2a2a" stroke-width="1"/>
<line x1="447.50" y1="510.50" x2="447.50" y2="513.50" stroke="#2a2a2a" stroke-width="1"/>
<line x1="478.50" y1="510.50" x2="478.50" y2="513.50" stroke="#2a2a2a" stroke-width="1"/>
<line x1="509.50" y1="510.50" x2="509.50" y2="513.50" stroke="#2a2a2a" stroke-width="1"/>
<line x1="540.50" y1="510.50" x2="540.50" y2="513.50" stroke="#2a2a2a" stroke-width="1"/>
<line x1="571.50" y1="510.50" x2="571.50" y2="513.50" stroke="#2a2a2a" stroke-width="1"/>
<line x1="602.50" y1="510.50" x2="602.50" y2="513.50" stroke="#2a2a2a" stroke-width="1"/>
<line x1="633.50" y1="510.50" x2="633.50" y2="513.50" stroke="#2a2a2a" stroke-width="1"/>
<line x1="366.00" y1="510.50" x2="370.50" y2="510.50" stroke="#2a2a2a" stroke-width="1"/>
<text transform="translate(363.80,514.20) scale(0.86,1)" font-size="10.2" text-anchor="end" font-weight="normal" fill="#1e1e1e" stroke="#1e1e1e" stroke-width="0.1" style="">0</text>
<line x1="366.00" y1="485.50" x2="370.50" y2="485.50" stroke="#2a2a2a" stroke-width="1"/>
<text transform="translate(363.80,488.71) scale(0.86,1)" font-size="10.2" text-anchor="end" font-weight="normal" fill="#1e1e1e" stroke="#1e1e1e" stroke-width="0.1" style="">20</text>
<line x1="366.00" y1="459.50" x2="370.50" y2="459.50" stroke="#2a2a2a" stroke-width="1"/>
<text transform="translate(363.80,463.22) scale(0.86,1)" font-size="10.2" text-anchor="end" font-weight="normal" fill="#1e1e1e" stroke="#1e1e1e" stroke-width="0.1" style="">40</text>
<line x1="366.00" y1="434.50" x2="370.50" y2="434.50" stroke="#2a2a2a" stroke-width="1"/>
<text transform="translate(363.80,437.73) scale(0.86,1)" font-size="10.2" text-anchor="end" font-weight="normal" fill="#1e1e1e" stroke="#1e1e1e" stroke-width="0.1" style="">60</text>
<line x1="366.00" y1="408.50" x2="370.50" y2="408.50" stroke="#2a2a2a" stroke-width="1"/>
<text transform="translate(363.80,412.24) scale(0.86,1)" font-size="10.2" text-anchor="end" font-weight="normal" fill="#1e1e1e" stroke="#1e1e1e" stroke-width="0.1" style="">80</text>
<line x1="366.00" y1="383.50" x2="370.50" y2="383.50" stroke="#2a2a2a" stroke-width="1"/>
<text transform="translate(363.80,386.76) scale(0.86,1)" font-size="10.2" text-anchor="end" font-weight="normal" fill="#1e1e1e" stroke="#1e1e1e" stroke-width="0.1" style="">100</text>
<line x1="366.00" y1="357.50" x2="370.50" y2="357.50" stroke="#2a2a2a" stroke-width="1"/>
<text transform="translate(363.80,361.27) scale(0.86,1)" font-size="10.2" text-anchor="end" font-weight="normal" fill="#1e1e1e" stroke="#1e1e1e" stroke-width="0.1" style="">120</text>
<line x1="366.00" y1="332.50" x2="370.50" y2="332.50" stroke="#2a2a2a" stroke-width="1"/>
<text transform="translate(363.80,335.78) scale(0.86,1)" font-size="10.2" text-anchor="end" font-weight="normal" fill="#1e1e1e" stroke="#1e1e1e" stroke-width="0.1" style="">140</text>
<line x1="366.00" y1="306.50" x2="370.50" y2="306.50" stroke="#2a2a2a" stroke-width="1"/>
<text transform="translate(363.80,310.29) scale(0.86,1)" font-size="10.2" text-anchor="end" font-weight="normal" fill="#1e1e1e" stroke="#1e1e1e" stroke-width="0.1" style="">160</text>
<line x1="366.00" y1="281.50" x2="370.50" y2="281.50" stroke="#2a2a2a" stroke-width="1"/>
<text transform="translate(363.80,284.80) scale(0.86,1)" font-size="10.2" text-anchor="end" font-weight="normal" fill="#1e1e1e" stroke="#1e1e1e" stroke-width="0.1" style="">180</text>
<line x1="368.00" y1="497.50" x2="370.50" y2="497.50" stroke="#2a2a2a" stroke-width="1"/>
<line x1="368.00" y1="472.50" x2="370.50" y2="472.50" stroke="#2a2a2a" stroke-width="1"/>
<line x1="368.00" y1="446.50" x2="370.50" y2="446.50" stroke="#2a2a2a" stroke-width="1"/>
<line x1="368.00" y1="421.50" x2="370.50" y2="421.50" stroke="#2a2a2a" stroke-width="1"/>
<line x1="368.00" y1="395.50" x2="370.50" y2="395.50" stroke="#2a2a2a" stroke-width="1"/>
<line x1="368.00" y1="370.50" x2="370.50" y2="370.50" stroke="#2a2a2a" stroke-width="1"/>
<line x1="368.00" y1="344.50" x2="370.50" y2="344.50" stroke="#2a2a2a" stroke-width="1"/>
<line x1="368.00" y1="319.50" x2="370.50" y2="319.50" stroke="#2a2a2a" stroke-width="1"/>
<line x1="368.00" y1="293.50" x2="370.50" y2="293.50" stroke="#2a2a2a" stroke-width="1"/>
<text transform="translate(509.40,543.50)" font-size="11.5" text-anchor="middle" font-weight="normal" fill="#1e1e1e" stroke="#1e1e1e" stroke-width="0.1" textLength="23.30" lengthAdjust="spacingAndGlyphs" style="">Z'(&#937;)</text>
<text transform="translate(343.00,403.20) rotate(-90) scale(1,0.86)" font-size="11.5" text-anchor="middle" font-weight="normal" fill="#1e1e1e" stroke="#1e1e1e" stroke-width="0.1" textLength="29.80" lengthAdjust="spacingAndGlyphs" style="">-Z''(&#937;)</text>
<text transform="translate(375.50,299.70) scale(0.86,1)" font-size="18" text-anchor="start" font-weight="bold" fill="#1e1e1e" style="">d</text>
<circle cx="533.70" cy="295.00" r="2.8" fill="#f01010"/>
<circle cx="517.20" cy="329.60" r="2.8" fill="#f01010"/>
<circle cx="503.40" cy="359.10" r="2.8" fill="#f01010"/>
<circle cx="492.00" cy="383.70" r="2.8" fill="#f01010"/>
<circle cx="484.30" cy="404.20" r="2.8" fill="#f01010"/>
<circle cx="475.30" cy="423.20" r="2.8" fill="#f01010"/>
<circle cx="468.90" cy="436.40" r="2.8" fill="#f01010"/>
<circle cx="463.50" cy="449.30" r="2.8" fill="#f01010"/>
<circle cx="459.70" cy="459.30" r="2.8" fill="#f01010"/>
<circle cx="455.70" cy="467.60" r="2.8" fill="#f01010"/>
<circle cx="452.60" cy="475.00" r="2.8" fill="#f01010"/>
<circle cx="449.20" cy="481.25" r="2.8" fill="#f01010"/>
<circle cx="447.80" cy="483.50" r="2.8" fill="#f01010"/>
<circle cx="446.94" cy="484.86" r="2.8" fill="#f01010"/>
<circle cx="446.07" cy="486.23" r="2.8" fill="#f01010"/>
<circle cx="445.21" cy="487.59" r="2.8" fill="#f01010"/>
<circle cx="444.54" cy="489.06" r="2.8" fill="#f01010"/>
<circle cx="443.87" cy="490.52" r="2.8" fill="#f01010"/>
<circle cx="443.20" cy="491.99" r="2.8" fill="#f01010"/>
<circle cx="442.53" cy="493.46" r="2.8" fill="#f01010"/>
<circle cx="441.89" cy="494.94" r="2.8" fill="#f01010"/>
<circle cx="441.29" cy="496.44" r="2.8" fill="#f01010"/>
<circle cx="440.70" cy="497.94" r="2.8" fill="#f01010"/>
<circle cx="440.11" cy="499.44" r="2.8" fill="#f01010"/>
<circle cx="439.52" cy="500.94" r="2.8" fill="#f01010"/>
<circle cx="438.89" cy="502.43" r="2.8" fill="#f01010"/>
<circle cx="438.18" cy="503.88" r="2.8" fill="#f01010"/>
<circle cx="437.47" cy="505.33" r="2.8" fill="#f01010"/>
<circle cx="436.76" cy="506.78" r="2.8" fill="#f01010"/>
<circle cx="435.77" cy="508.00" r="2.8" fill="#f01010"/>
<circle cx="434.50" cy="509.00" r="2.8" fill="#f01010"/>
<rect x="477.35" y="342.75" width="4.9" height="4.9" fill="#000"/>
<rect x="466.95" y="375.25" width="4.9" height="4.9" fill="#000"/>
<rect x="459.65" y="400.35" width="4.9" height="4.9" fill="#000"/>
<rect x="454.45" y="420.05" width="4.9" height="4.9" fill="#000"/>
<rect x="450.15" y="437.15" width="4.9" height="4.9" fill="#000"/>
<rect x="445.75" y="450.35" width="4.9" height="4.9" fill="#000"/>
<rect x="441.45" y="461.05" width="4.9" height="4.9" fill="#000"/>
<rect x="437.65" y="468.35" width="4.9" height="4.9" fill="#000"/>
<rect x="436.30" y="475.55" width="4.9" height="4.9" fill="#000"/>
<rect x="434.05" y="478.55" width="4.9" height="4.9" fill="#000"/>
<rect x="433.05" y="479.88" width="4.9" height="4.9" fill="#000"/>
<rect x="432.43" y="481.42" width="4.9" height="4.9" fill="#000"/>
<rect x="431.90" y="483.00" width="4.9" height="4.9" fill="#000"/>
<rect x="431.37" y="484.58" width="4.9" height="4.9" fill="#000"/>
<rect x="430.86" y="486.16" width="4.9" height="4.9" fill="#000"/>
<rect x="430.42" y="487.77" width="4.9" height="4.9" fill="#000"/>
<rect x="429.98" y="489.38" width="4.9" height="4.9" fill="#000"/>
<rect x="429.54" y="490.99" width="4.9" height="4.9" fill="#000"/>
<rect x="429.09" y="492.59" width="4.9" height="4.9" fill="#000"/>
<rect x="428.61" y="494.19" width="4.9" height="4.9" fill="#000"/>
<rect x="428.13" y="495.78" width="4.9" height="4.9" fill="#000"/>
<rect x="427.65" y="497.38" width="4.9" height="4.9" fill="#000"/>
<rect x="427.17" y="498.98" width="4.9" height="4.9" fill="#000"/>
<rect x="426.68" y="500.57" width="4.9" height="4.9" fill="#000"/>
<rect x="426.14" y="502.15" width="4.9" height="4.9" fill="#000"/>
<rect x="425.60" y="503.72" width="4.9" height="4.9" fill="#000"/>
<rect x="424.93" y="505.21" width="4.9" height="4.9" fill="#000"/>
<rect x="423.58" y="506.17" width="4.9" height="4.9" fill="#000"/>
<rect x="422.05" y="506.75" width="4.9" height="4.9" fill="#000"/>
<path d="M446.30,424.81 L452.10,424.81 L449.20,419.59 Z" fill="#0a14e0"/>
<path d="M443.50,441.21 L449.30,441.21 L446.40,435.99 Z" fill="#0a14e0"/>
<path d="M441.70,456.11 L447.50,456.11 L444.60,450.89 Z" fill="#0a14e0"/>
<path d="M438.90,465.81 L444.70,465.81 L441.80,460.59 Z" fill="#0a14e0"/>
<path d="M437.50,473.86 L443.30,473.86 L440.40,468.64 Z" fill="#0a14e0"/>
<path d="M437.30,479.51 L443.10,479.51 L440.20,474.29 Z" fill="#0a14e0"/>
<path d="M436.92,481.36 L442.72,481.36 L439.82,476.14 Z" fill="#0a14e0"/>
<path d="M436.53,483.21 L442.33,483.21 L439.43,477.99 Z" fill="#0a14e0"/>
<path d="M436.12,485.05 L441.92,485.05 L439.02,479.83 Z" fill="#0a14e0"/>
<path d="M435.49,486.83 L441.29,486.83 L438.39,481.61 Z" fill="#0a14e0"/>
<path d="M434.86,488.61 L440.66,488.61 L437.76,483.39 Z" fill="#0a14e0"/>
<path d="M434.25,490.39 L440.05,490.39 L437.15,485.17 Z" fill="#0a14e0"/>
<path d="M433.74,492.21 L439.54,492.21 L436.64,486.99 Z" fill="#0a14e0"/>
<path d="M433.23,494.03 L439.03,494.03 L436.13,488.81 Z" fill="#0a14e0"/>
<path d="M432.73,495.84 L438.53,495.84 L435.63,490.62 Z" fill="#0a14e0"/>
<path d="M432.14,497.64 L437.94,497.64 L435.04,492.42 Z" fill="#0a14e0"/>
<path d="M431.43,499.38 L437.23,499.38 L434.33,494.16 Z" fill="#0a14e0"/>
<path d="M430.72,501.13 L436.52,501.13 L433.62,495.91 Z" fill="#0a14e0"/>
<path d="M430.01,502.88 L435.81,502.88 L432.91,497.66 Z" fill="#0a14e0"/>
<path d="M429.29,504.63 L435.09,504.63 L432.19,499.41 Z" fill="#0a14e0"/>
<path d="M428.39,506.28 L434.19,506.28 L431.29,501.06 Z" fill="#0a14e0"/>
<path d="M427.48,507.94 L433.28,507.94 L430.38,502.72 Z" fill="#0a14e0"/>
<path d="M426.58,509.60 L432.38,509.60 L429.48,504.38 Z" fill="#0a14e0"/>
<path d="M425.20,510.80 L431.00,510.80 L428.10,505.58 Z" fill="#0a14e0"/>
<path d="M423.60,511.81 L429.40,511.81 L426.50,506.59 Z" fill="#0a14e0"/>
<rect x="532.45" y="349.45" width="4.7" height="4.7" fill="#000"/>
<circle cx="534.80" cy="362.30" r="2.6" fill="#f01010"/>
<path d="M532.10,377.73 L537.50,377.73 L534.80,372.87 Z" fill="#0a14e0"/>
<text transform="translate(546.00,355.20)" font-size="9.8" text-anchor="start" font-weight="normal" fill="#1e1e1e" stroke="#1e1e1e" stroke-width="0.1" textLength="69.50" lengthAdjust="spacingAndGlyphs" style=""><tspan font-style="italic">f</tspan><tspan dx="-0.9">-</tspan>CNFs/PEDOT//AC</text>
<text transform="translate(546.00,365.70)" font-size="9.8" text-anchor="start" font-weight="normal" fill="#1e1e1e" stroke="#1e1e1e" stroke-width="0.1" textLength="61.50" lengthAdjust="spacingAndGlyphs" style=""><tspan font-style="italic">f</tspan><tspan dx="-0.9">-</tspan>CNFs/MnO<tspan font-size="6.5" dy="2.3">2</tspan><tspan dy="-2.3">//AC</tspan></text>
<text transform="translate(546.00,378.80)" font-size="9.8" text-anchor="start" font-weight="normal" fill="#1e1e1e" stroke="#1e1e1e" stroke-width="0.1" textLength="91.00" lengthAdjust="spacingAndGlyphs" style=""><tspan font-style="italic">f</tspan><tspan dx="-0.9">-</tspan>CNFs/PEDOT/MnO<tspan font-size="6.5" dy="2.3">2</tspan><tspan dy="-2.3">//AC</tspan></text>
<line x1="508.50" y1="493.50" x2="637.50" y2="493.50" stroke="#2a2a2a" stroke-width="0.8"/>
<line x1="508.50" y1="493.50" x2="508.50" y2="391.50" stroke="#2a2a2a" stroke-width="0.8"/>
<line x1="508.50" y1="391.50" x2="637.50" y2="391.50" stroke="#2a2a2a" stroke-width="0.8"/>
<line x1="637.50" y1="391.50" x2="637.50" y2="493.50" stroke="#2a2a2a" stroke-width="0.8"/>
<line x1="539.50" y1="493.50" x2="539.50" y2="495.50" stroke="#2a2a2a" stroke-width="0.6"/>
<text transform="translate(539.50,501.00)" font-size="3.5" text-anchor="middle" font-weight="normal" fill="#1e1e1e" stroke="#1e1e1e" stroke-width="0.1" style="">30</text>
<line x1="571.10" y1="493.50" x2="571.10" y2="495.50" stroke="#2a2a2a" stroke-width="0.6"/>
<text transform="translate(571.10,501.00)" font-size="3.5" text-anchor="middle" font-weight="normal" fill="#1e1e1e" stroke="#1e1e1e" stroke-width="0.1" style="">40</text>
<line x1="602.70" y1="493.50" x2="602.70" y2="495.50" stroke="#2a2a2a" stroke-width="0.6"/>
<text transform="translate(602.70,501.00)" font-size="3.5" text-anchor="middle" font-weight="normal" fill="#1e1e1e" stroke="#1e1e1e" stroke-width="0.1" style="">50</text>
<line x1="634.30" y1="493.50" x2="634.30" y2="495.50" stroke="#2a2a2a" stroke-width="0.6"/>
<text transform="translate(634.30,501.00)" font-size="3.5" text-anchor="middle" font-weight="normal" fill="#1e1e1e" stroke="#1e1e1e" stroke-width="0.1" style="">60</text>
<line x1="523.70" y1="493.50" x2="523.70" y2="494.70" stroke="#2a2a2a" stroke-width="0.5"/>
<line x1="555.30" y1="493.50" x2="555.30" y2="494.70" stroke="#2a2a2a" stroke-width="0.5"/>
<line x1="586.90" y1="493.50" x2="586.90" y2="494.70" stroke="#2a2a2a" stroke-width="0.5"/>
<line x1="618.50" y1="493.50" x2="618.50" y2="494.70" stroke="#2a2a2a" stroke-width="0.5"/>
<line x1="506.50" y1="493.50" x2="508.50" y2="493.50" stroke="#2a2a2a" stroke-width="0.6"/>
<text transform="translate(505.50,494.70)" font-size="3.5" text-anchor="end" font-weight="normal" fill="#1e1e1e" stroke="#1e1e1e" stroke-width="0.1" style="">0</text>
<line x1="506.50" y1="459.50" x2="508.50" y2="459.50" stroke="#2a2a2a" stroke-width="0.6"/>
<text transform="translate(505.50,460.70)" font-size="3.5" text-anchor="end" font-weight="normal" fill="#1e1e1e" stroke="#1e1e1e" stroke-width="0.1" style="">5</text>
<line x1="506.50" y1="425.50" x2="508.50" y2="425.50" stroke="#2a2a2a" stroke-width="0.6"/>
<text transform="translate(505.50,426.70)" font-size="3.5" text-anchor="end" font-weight="normal" fill="#1e1e1e" stroke="#1e1e1e" stroke-width="0.1" style="">10</text>
<line x1="506.50" y1="391.50" x2="508.50" y2="391.50" stroke="#2a2a2a" stroke-width="0.6"/>
<text transform="translate(505.50,392.70)" font-size="3.5" text-anchor="end" font-weight="normal" fill="#1e1e1e" stroke="#1e1e1e" stroke-width="0.1" style="">15</text>
<line x1="507.30" y1="476.50" x2="508.50" y2="476.50" stroke="#2a2a2a" stroke-width="0.5"/>
<line x1="507.30" y1="442.50" x2="508.50" y2="442.50" stroke="#2a2a2a" stroke-width="0.5"/>
<line x1="507.30" y1="408.50" x2="508.50" y2="408.50" stroke="#2a2a2a" stroke-width="0.5"/>
<text transform="translate(573.40,507.50)" font-size="4.5" text-anchor="middle" font-weight="normal" fill="#1e1e1e" stroke="#1e1e1e" stroke-width="0.1" style="">Z'(&#937;)</text>
<text transform="translate(504.00,442.00) rotate(-90)" font-size="4.5" text-anchor="middle" font-weight="normal" fill="#1e1e1e" stroke="#1e1e1e" stroke-width="0.1" style="">-Z''(&#937;)</text>
<rect x="574.50" y="396.20" width="2.2" height="2.2" fill="#000"/>
<rect x="570.30" y="411.60" width="2.2" height="2.2" fill="#000"/>
<rect x="566.00" y="425.40" width="2.2" height="2.2" fill="#000"/>
<rect x="562.90" y="437.70" width="2.2" height="2.2" fill="#000"/>
<rect x="560.60" y="448.30" width="2.2" height="2.2" fill="#000"/>
<rect x="558.80" y="456.10" width="2.2" height="2.2" fill="#000"/>
<rect x="557.40" y="462.90" width="2.2" height="2.2" fill="#000"/>
<rect x="556.24" y="467.90" width="2.2" height="2.2" fill="#000"/>
<rect x="555.92" y="469.87" width="2.2" height="2.2" fill="#000"/>
<rect x="555.61" y="471.84" width="2.2" height="2.2" fill="#000"/>
<rect x="555.14" y="473.79" width="2.2" height="2.2" fill="#000"/>
<rect x="554.66" y="475.72" width="2.2" height="2.2" fill="#000"/>
<rect x="554.14" y="477.65" width="2.2" height="2.2" fill="#000"/>
<rect x="553.65" y="479.59" width="2.2" height="2.2" fill="#000"/>
<rect x="553.12" y="481.51" width="2.2" height="2.2" fill="#000"/>
<rect x="552.18" y="483.27" width="2.2" height="2.2" fill="#000"/>
<rect x="550.76" y="484.59" width="2.2" height="2.2" fill="#000"/>
<rect x="549.08" y="485.67" width="2.2" height="2.2" fill="#000"/>
<rect x="547.30" y="486.56" width="2.2" height="2.2" fill="#000"/>
<rect x="545.61" y="487.60" width="2.2" height="2.2" fill="#000"/>
<rect x="544.20" y="489.01" width="2.2" height="2.2" fill="#000"/>
<rect x="542.76" y="490.39" width="2.2" height="2.2" fill="#000"/>
<rect x="541.29" y="491.75" width="2.2" height="2.2" fill="#000"/>
<path d="M581.60,399.17 L584.20,399.17 L582.90,396.83 Z" fill="#0a14e0"/>
<path d="M581.40,416.07 L584.00,416.07 L582.70,413.73 Z" fill="#0a14e0"/>
<path d="M575.70,429.87 L578.30,429.87 L577.00,427.53 Z" fill="#0a14e0"/>
<path d="M574.00,440.27 L576.60,440.27 L575.30,437.93 Z" fill="#0a14e0"/>
<path d="M571.00,447.97 L573.60,447.97 L572.30,445.63 Z" fill="#0a14e0"/>
<path d="M568.60,455.87 L571.20,455.87 L569.90,453.53 Z" fill="#0a14e0"/>
<path d="M566.30,461.77 L568.90,461.77 L567.60,459.43 Z" fill="#0a14e0"/>
<path d="M564.60,467.17 L567.20,467.17 L565.90,464.83 Z" fill="#0a14e0"/>
<path d="M563.26,471.35 L565.86,471.35 L564.56,469.01 Z" fill="#0a14e0"/>
<path d="M562.29,473.21 L564.89,473.21 L563.59,470.87 Z" fill="#0a14e0"/>
<path d="M561.32,475.07 L563.92,475.07 L562.62,472.73 Z" fill="#0a14e0"/>
<path d="M560.52,477.01 L563.12,477.01 L561.82,474.67 Z" fill="#0a14e0"/>
<path d="M559.74,478.96 L562.34,478.96 L561.04,476.62 Z" fill="#0a14e0"/>
<path d="M558.91,480.89 L561.51,480.89 L560.21,478.55 Z" fill="#0a14e0"/>
<path d="M557.97,482.77 L560.57,482.77 L559.27,480.43 Z" fill="#0a14e0"/>
<path d="M557.03,484.64 L559.63,484.64 L558.33,482.30 Z" fill="#0a14e0"/>
<path d="M556.07,486.51 L558.67,486.51 L557.37,484.17 Z" fill="#0a14e0"/>
<path d="M555.10,488.37 L557.70,488.37 L556.40,486.03 Z" fill="#0a14e0"/>
<path d="M554.12,490.23 L556.72,490.23 L555.42,487.89 Z" fill="#0a14e0"/>
<path d="M552.90,491.79 L555.50,491.79 L554.20,489.45 Z" fill="#0a14e0"/>
<path d="M550.87,492.33 L553.47,492.33 L552.17,489.99 Z" fill="#0a14e0"/>
<path d="M548.77,492.42 L551.37,492.42 L550.07,490.08 Z" fill="#0a14e0"/>
<path d="M546.67,492.50 L549.27,492.50 L547.97,490.16 Z" fill="#0a14e0"/>
<path d="M544.58,492.67 L547.18,492.67 L545.88,490.33 Z" fill="#0a14e0"/>
<path d="M542.49,492.84 L545.09,492.84 L543.79,490.50 Z" fill="#0a14e0"/>
<path d="M540.76,494.02 L543.36,494.02 L542.06,491.68 Z" fill="#0a14e0"/>
<circle cx="621.60" cy="402.40" r="1.15" fill="#f01010"/>
<circle cx="617.10" cy="418.30" r="1.15" fill="#f01010"/>
<circle cx="612.90" cy="430.10" r="1.15" fill="#f01010"/>
<circle cx="609.80" cy="440.70" r="1.15" fill="#f01010"/>
<circle cx="607.40" cy="449.50" r="1.15" fill="#f01010"/>
<circle cx="605.30" cy="457.10" r="1.15" fill="#f01010"/>
<circle cx="602.90" cy="463.20" r="1.15" fill="#f01010"/>
<circle cx="601.30" cy="467.20" r="1.15" fill="#f01010"/>
<circle cx="599.50" cy="471.00" r="1.15" fill="#f01010"/>
<circle cx="598.50" cy="473.00" r="1.15" fill="#f01010"/>
<circle cx="597.68" cy="474.63" r="1.15" fill="#f01010"/>
<circle cx="596.80" cy="476.22" r="1.15" fill="#f01010"/>
<circle cx="595.57" cy="477.57" r="1.15" fill="#f01010"/>
<circle cx="594.31" cy="478.89" r="1.15" fill="#f01010"/>
<circle cx="592.82" cy="479.94" r="1.15" fill="#f01010"/>
<circle cx="591.30" cy="480.95" r="1.15" fill="#f01010"/>
<circle cx="589.78" cy="481.97" r="1.15" fill="#f01010"/>
<circle cx="588.32" cy="483.06" r="1.15" fill="#f01010"/>
<circle cx="586.92" cy="484.23" r="1.15" fill="#f01010"/>
<circle cx="585.52" cy="485.40" r="1.15" fill="#f01010"/>
<circle cx="584.12" cy="486.57" r="1.15" fill="#f01010"/>
<circle cx="582.96" cy="487.98" r="1.15" fill="#f01010"/>
<circle cx="581.82" cy="489.41" r="1.15" fill="#f01010"/>
<circle cx="580.68" cy="490.83" r="1.15" fill="#f01010"/>
<line x1="233.00" y1="791.50" x2="511.00" y2="791.50" stroke="#2a2a2a" stroke-width="1"/>
<line x1="233.50" y1="792.00" x2="233.50" y2="562.00" stroke="#2a2a2a" stroke-width="1"/>
<line x1="233.00" y1="562.50" x2="511.00" y2="562.50" stroke="#2a2a2a" stroke-width="1"/>
<line x1="510.50" y1="562.00" x2="510.50" y2="792.00" stroke="#2a2a2a" stroke-width="1"/>
<line x1="233.50" y1="791.50" x2="233.50" y2="796.70" stroke="#2a2a2a" stroke-width="1"/>
<text transform="translate(233.40,807.10) scale(0.86,1)" font-size="10.2" text-anchor="middle" font-weight="normal" fill="#1e1e1e" stroke="#1e1e1e" stroke-width="0.1" style="">0</text>
<line x1="302.50" y1="791.50" x2="302.50" y2="796.70" stroke="#2a2a2a" stroke-width="1"/>
<text transform="translate(302.55,807.10) scale(0.86,1)" font-size="10.2" text-anchor="middle" font-weight="normal" fill="#1e1e1e" stroke="#1e1e1e" stroke-width="0.1" style="">2000</text>
<line x1="371.50" y1="791.50" x2="371.50" y2="796.70" stroke="#2a2a2a" stroke-width="1"/>
<text transform="translate(371.70,807.10) scale(0.86,1)" font-size="10.2" text-anchor="middle" font-weight="normal" fill="#1e1e1e" stroke="#1e1e1e" stroke-width="0.1" style="">4000</text>
<line x1="440.50" y1="791.50" x2="440.50" y2="796.70" stroke="#2a2a2a" stroke-width="1"/>
<text transform="translate(440.85,807.10) scale(0.86,1)" font-size="10.2" text-anchor="middle" font-weight="normal" fill="#1e1e1e" stroke="#1e1e1e" stroke-width="0.1" style="">6000</text>
<line x1="510.50" y1="791.50" x2="510.50" y2="796.70" stroke="#2a2a2a" stroke-width="1"/>
<text transform="translate(510.00,807.10) scale(0.86,1)" font-size="10.2" text-anchor="middle" font-weight="normal" fill="#1e1e1e" stroke="#1e1e1e" stroke-width="0.1" style="">8000</text>
<line x1="267.50" y1="791.50" x2="267.50" y2="794.50" stroke="#2a2a2a" stroke-width="1"/>
<line x1="337.50" y1="791.50" x2="337.50" y2="794.50" stroke="#2a2a2a" stroke-width="1"/>
<line x1="406.50" y1="791.50" x2="406.50" y2="794.50" stroke="#2a2a2a" stroke-width="1"/>
<line x1="475.50" y1="791.50" x2="475.50" y2="794.50" stroke="#2a2a2a" stroke-width="1"/>
<line x1="229.00" y1="791.50" x2="233.50" y2="791.50" stroke="#2a2a2a" stroke-width="1"/>
<text transform="translate(226.70,795.10) scale(0.86,1)" font-size="10.2" text-anchor="end" font-weight="normal" fill="#1e1e1e" stroke="#1e1e1e" stroke-width="0.1" style="">0</text>
<line x1="229.00" y1="753.50" x2="233.50" y2="753.50" stroke="#2a2a2a" stroke-width="1"/>
<text transform="translate(226.70,756.92) scale(0.86,1)" font-size="10.2" text-anchor="end" font-weight="normal" fill="#1e1e1e" stroke="#1e1e1e" stroke-width="0.1" style="">20</text>
<line x1="229.00" y1="715.50" x2="233.50" y2="715.50" stroke="#2a2a2a" stroke-width="1"/>
<text transform="translate(226.70,718.73) scale(0.86,1)" font-size="10.2" text-anchor="end" font-weight="normal" fill="#1e1e1e" stroke="#1e1e1e" stroke-width="0.1" style="">40</text>
<line x1="229.00" y1="676.50" x2="233.50" y2="676.50" stroke="#2a2a2a" stroke-width="1"/>
<text transform="translate(226.70,680.55) scale(0.86,1)" font-size="10.2" text-anchor="end" font-weight="normal" fill="#1e1e1e" stroke="#1e1e1e" stroke-width="0.1" style="">60</text>
<line x1="229.00" y1="638.50" x2="233.50" y2="638.50" stroke="#2a2a2a" stroke-width="1"/>
<text transform="translate(226.70,642.37) scale(0.86,1)" font-size="10.2" text-anchor="end" font-weight="normal" fill="#1e1e1e" stroke="#1e1e1e" stroke-width="0.1" style="">80</text>
<line x1="229.00" y1="600.50" x2="233.50" y2="600.50" stroke="#2a2a2a" stroke-width="1"/>
<text transform="translate(226.70,604.18) scale(0.86,1)" font-size="10.2" text-anchor="end" font-weight="normal" fill="#1e1e1e" stroke="#1e1e1e" stroke-width="0.1" style="">100</text>
<line x1="229.00" y1="562.50" x2="233.50" y2="562.50" stroke="#2a2a2a" stroke-width="1"/>
<text transform="translate(226.70,566.00) scale(0.86,1)" font-size="10.2" text-anchor="end" font-weight="normal" fill="#1e1e1e" stroke="#1e1e1e" stroke-width="0.1" style="">120</text>
<line x1="231.00" y1="772.50" x2="233.50" y2="772.50" stroke="#2a2a2a" stroke-width="1"/>
<line x1="231.00" y1="734.50" x2="233.50" y2="734.50" stroke="#2a2a2a" stroke-width="1"/>
<line x1="231.00" y1="695.50" x2="233.50" y2="695.50" stroke="#2a2a2a" stroke-width="1"/>
<line x1="231.00" y1="657.50" x2="233.50" y2="657.50" stroke="#2a2a2a" stroke-width="1"/>
<line x1="231.00" y1="619.50" x2="233.50" y2="619.50" stroke="#2a2a2a" stroke-width="1"/>
<line x1="231.00" y1="581.50" x2="233.50" y2="581.50" stroke="#2a2a2a" stroke-width="1"/>
<text transform="translate(371.70,825.90)" font-size="12" text-anchor="middle" font-weight="normal" fill="#1e1e1e" stroke="#1e1e1e" stroke-width="0.1" textLength="62.60" lengthAdjust="spacingAndGlyphs" style="">Cycle number</text>
<text transform="translate(206.30,684.30) rotate(-90) scale(1,0.86)" font-size="12" text-anchor="middle" font-weight="normal" fill="#1e1e1e" stroke="#1e1e1e" stroke-width="0.1" textLength="133.00" lengthAdjust="spacingAndGlyphs" style="">Capacitance retention (%)</text>
<text transform="translate(238.60,582.20) scale(0.92,1)" font-size="18.5" text-anchor="start" font-weight="bold" fill="#1e1e1e" style="">e</text>
<clipPath id="eclip"><rect x="233.4" y="562.3" width="276.6" height="229.10000000000002"/></clipPath>
<g clip-path="url(#eclip)">
<ellipse cx="239.90" cy="599.90" rx="6.6" ry="7.4" fill="url(#sph)"/>
<ellipse cx="246.70" cy="600.30" rx="6.6" ry="7.4" fill="url(#sph)"/>
<ellipse cx="253.60" cy="600.30" rx="6.6" ry="7.4" fill="url(#sph)"/>
<ellipse cx="260.50" cy="600.90" rx="6.6" ry="7.4" fill="url(#sph)"/>
<ellipse cx="267.50" cy="604.10" rx="6.6" ry="7.4" fill="url(#sph)"/>
<ellipse cx="285.00" cy="608.60" rx="6.6" ry="7.4" fill="url(#sph)"/>
<ellipse cx="302.50" cy="613.00" rx="6.6" ry="7.4" fill="url(#sph)"/>
<ellipse cx="319.70" cy="616.00" rx="6.6" ry="7.4" fill="url(#sph)"/>
<ellipse cx="337.60" cy="618.90" rx="6.6" ry="7.4" fill="url(#sph)"/>
<ellipse cx="354.30" cy="622.80" rx="6.6" ry="7.4" fill="url(#sph)"/>
<ellipse cx="371.30" cy="623.70" rx="6.6" ry="7.4" fill="url(#sph)"/>
<ellipse cx="388.30" cy="627.00" rx="6.6" ry="7.4" fill="url(#sph)"/>
<ellipse cx="405.90" cy="630.80" rx="6.6" ry="7.4" fill="url(#sph)"/>
<ellipse cx="423.20" cy="635.30" rx="6.6" ry="7.4" fill="url(#sph)"/>
<ellipse cx="440.60" cy="636.60" rx="6.6" ry="7.4" fill="url(#sph)"/>
<ellipse cx="457.90" cy="637.20" rx="6.6" ry="7.4" fill="url(#sph)"/>
<ellipse cx="474.90" cy="636.60" rx="6.6" ry="7.4" fill="url(#sph)"/>
<ellipse cx="492.50" cy="636.60" rx="6.6" ry="7.4" fill="url(#sph)"/>
<ellipse cx="509.20" cy="636.60" rx="6.6" ry="7.4" fill="url(#sph)"/>
</g>
</svg>
</body></html>
